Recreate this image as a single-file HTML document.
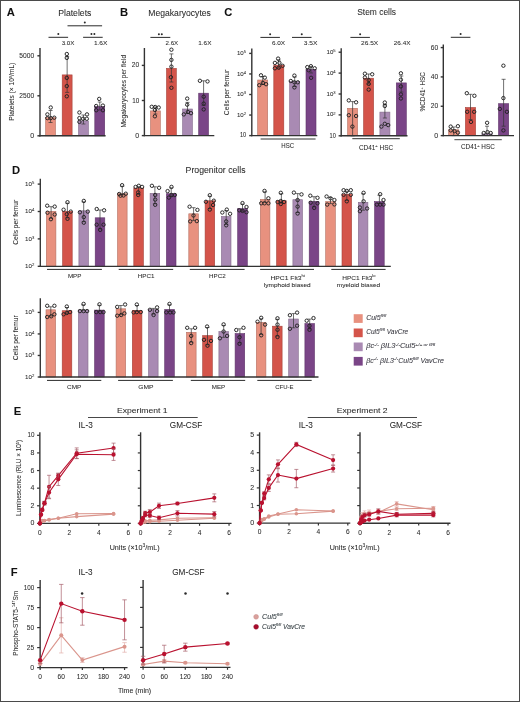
<!DOCTYPE html>
<html><head><meta charset="utf-8"><style>
html,body{margin:0;padding:0;background:#fff;}
svg{display:block;will-change:transform;}
text{font-family:"Liberation Sans",sans-serif;fill:#2b2b2b;stroke:#2b2b2b;stroke-width:0.06px;}
</style></head><body>
<svg width="520" height="702" viewBox="0 0 520 702">
<rect x="0" y="0" width="520" height="702" fill="#fff"/>
<text x="6.80" y="15.90" font-size="11.2" font-weight="bold" style="fill:#111">A</text>
<text x="120.00" y="15.70" font-size="11.2" font-weight="bold" style="fill:#111">B</text>
<text x="224.20" y="15.80" font-size="11.2" font-weight="bold" style="fill:#111">C</text>
<text x="12.10" y="174.20" font-size="11.2" font-weight="bold" style="fill:#111">D</text>
<text x="13.80" y="415.30" font-size="11.2" font-weight="bold" style="fill:#111">E</text>
<text x="10.70" y="575.60" font-size="11.2" font-weight="bold" style="fill:#111">F</text>
<text x="58.20" y="15.60" font-size="8.9" textLength="33.20" lengthAdjust="spacingAndGlyphs">Platelets</text>
<text x="34.10" y="57.81" font-size="7.0" text-anchor="end" textLength="14.79" lengthAdjust="spacingAndGlyphs">5000</text>
<text x="34.10" y="97.81" font-size="7.0" text-anchor="end" textLength="14.79" lengthAdjust="spacingAndGlyphs">2500</text>
<text x="34.10" y="137.81" font-size="7.0" text-anchor="end" textLength="3.89" lengthAdjust="spacingAndGlyphs">0</text>
<rect x="45.60" y="117.55" width="9.90" height="18.25" fill="#e8917f" stroke="#b47163" stroke-width="0.6"/>
<rect x="62.20" y="74.90" width="9.90" height="60.90" fill="#d4544a" stroke="#a54139" stroke-width="0.6"/>
<rect x="78.50" y="120.90" width="9.90" height="14.90" fill="#a98ab3" stroke="#836b8b" stroke-width="0.6"/>
<rect x="94.80" y="106.55" width="9.90" height="29.25" fill="#7a4587" stroke="#5f3569" stroke-width="0.6"/>
<line x1="50.55" y1="110.50" x2="50.55" y2="122.50" stroke="#333" stroke-width="0.7"/>
<line x1="48.55" y1="110.50" x2="52.55" y2="110.50" stroke="#333" stroke-width="0.7"/>
<line x1="48.55" y1="122.50" x2="52.55" y2="122.50" stroke="#333" stroke-width="0.7"/>
<circle cx="50.75" cy="107.50" r="1.7" fill="none" stroke="#222" stroke-width="0.95"/>
<circle cx="47.40" cy="114.40" r="1.7" fill="none" stroke="#222" stroke-width="0.95"/>
<circle cx="47.40" cy="118.10" r="1.7" fill="none" stroke="#222" stroke-width="0.95"/>
<circle cx="50.75" cy="118.10" r="1.7" fill="none" stroke="#222" stroke-width="0.95"/>
<circle cx="54.30" cy="117.70" r="1.7" fill="none" stroke="#222" stroke-width="0.95"/>
<line x1="67.15" y1="56.40" x2="67.15" y2="92.40" stroke="#333" stroke-width="0.7"/>
<line x1="65.15" y1="56.40" x2="69.15" y2="56.40" stroke="#333" stroke-width="0.7"/>
<line x1="65.15" y1="92.40" x2="69.15" y2="92.40" stroke="#333" stroke-width="0.7"/>
<circle cx="66.80" cy="54.00" r="1.7" fill="none" stroke="#222" stroke-width="0.95"/>
<circle cx="66.80" cy="57.90" r="1.7" fill="none" stroke="#222" stroke-width="0.95"/>
<circle cx="66.80" cy="77.90" r="1.7" fill="none" stroke="#222" stroke-width="0.95"/>
<circle cx="66.80" cy="86.10" r="1.7" fill="none" stroke="#222" stroke-width="0.95"/>
<circle cx="66.80" cy="96.30" r="1.7" fill="none" stroke="#222" stroke-width="0.95"/>
<line x1="83.45" y1="115.00" x2="83.45" y2="124.00" stroke="#333" stroke-width="0.7"/>
<line x1="81.45" y1="115.00" x2="85.45" y2="115.00" stroke="#333" stroke-width="0.7"/>
<line x1="81.45" y1="124.00" x2="85.45" y2="124.00" stroke="#333" stroke-width="0.7"/>
<circle cx="79.40" cy="112.50" r="1.7" fill="none" stroke="#222" stroke-width="0.95"/>
<circle cx="87.00" cy="114.40" r="1.7" fill="none" stroke="#222" stroke-width="0.95"/>
<circle cx="79.40" cy="118.10" r="1.7" fill="none" stroke="#222" stroke-width="0.95"/>
<circle cx="83.10" cy="118.75" r="1.7" fill="none" stroke="#222" stroke-width="0.95"/>
<circle cx="86.80" cy="118.75" r="1.7" fill="none" stroke="#222" stroke-width="0.95"/>
<circle cx="79.40" cy="121.90" r="1.7" fill="none" stroke="#222" stroke-width="0.95"/>
<line x1="99.75" y1="102.00" x2="99.75" y2="110.00" stroke="#333" stroke-width="0.7"/>
<line x1="97.75" y1="102.00" x2="101.75" y2="102.00" stroke="#333" stroke-width="0.7"/>
<line x1="97.75" y1="110.00" x2="101.75" y2="110.00" stroke="#333" stroke-width="0.7"/>
<circle cx="99.20" cy="98.90" r="1.7" fill="none" stroke="#222" stroke-width="0.95"/>
<circle cx="96.20" cy="106.00" r="1.7" fill="none" stroke="#222" stroke-width="0.95"/>
<circle cx="102.90" cy="105.60" r="1.7" fill="none" stroke="#222" stroke-width="0.95"/>
<circle cx="96.20" cy="110.25" r="1.7" fill="none" stroke="#222" stroke-width="0.95"/>
<circle cx="102.90" cy="110.25" r="1.7" fill="none" stroke="#222" stroke-width="0.95"/>
<text x="14.20" y="91.70" font-size="6.8" text-anchor="middle" textLength="58.00" lengthAdjust="spacingAndGlyphs" transform="rotate(-90 14.20 91.70)">Platelets (× 10<tspan font-size="4.0" dy="-2.4">9</tspan><tspan dy="2.4">/mL)</tspan></text>
<line x1="48.50" y1="37.30" x2="68.10" y2="37.30" stroke="#2a2a2a" stroke-width="1.0"/>
<circle cx="58.30" cy="34.10" r="1.0" fill="#2a2a2a"/>
<line x1="83.10" y1="37.30" x2="102.70" y2="37.30" stroke="#2a2a2a" stroke-width="1.0"/>
<circle cx="91.45" cy="34.10" r="1.0" fill="#2a2a2a"/>
<circle cx="94.35" cy="34.10" r="1.0" fill="#2a2a2a"/>
<line x1="67.50" y1="25.80" x2="102.10" y2="25.80" stroke="#2a2a2a" stroke-width="1.0"/>
<circle cx="84.80" cy="22.60" r="1.0" fill="#2a2a2a"/>
<text x="61.70" y="45.20" font-size="6.2" textLength="12.70" lengthAdjust="spacingAndGlyphs">3.0X</text>
<text x="93.90" y="45.20" font-size="6.2" textLength="13.50" lengthAdjust="spacingAndGlyphs">1.6X</text>
<text x="148.30" y="15.50" font-size="8.9" textLength="62.60" lengthAdjust="spacingAndGlyphs">Megakaryocytes</text>
<text x="139.20" y="67.41" font-size="7.0" text-anchor="end" textLength="7.40" lengthAdjust="spacingAndGlyphs">20</text>
<text x="139.20" y="102.51" font-size="7.0" text-anchor="end" textLength="7.01" lengthAdjust="spacingAndGlyphs">10</text>
<text x="139.20" y="137.61" font-size="7.0" text-anchor="end" textLength="3.89" lengthAdjust="spacingAndGlyphs">0</text>
<rect x="150.50" y="110.90" width="9.80" height="24.70" fill="#e8917f" stroke="#b47163" stroke-width="0.6"/>
<rect x="166.50" y="68.40" width="9.80" height="67.20" fill="#d4544a" stroke="#a54139" stroke-width="0.6"/>
<rect x="182.60" y="109.00" width="9.80" height="26.60" fill="#a98ab3" stroke="#836b8b" stroke-width="0.6"/>
<rect x="198.70" y="93.20" width="9.80" height="42.40" fill="#7a4587" stroke="#5f3569" stroke-width="0.6"/>
<line x1="155.40" y1="107.00" x2="155.40" y2="114.00" stroke="#333" stroke-width="0.7"/>
<line x1="153.40" y1="107.00" x2="157.40" y2="107.00" stroke="#333" stroke-width="0.7"/>
<line x1="153.40" y1="114.00" x2="157.40" y2="114.00" stroke="#333" stroke-width="0.7"/>
<circle cx="151.70" cy="106.80" r="1.7" fill="none" stroke="#222" stroke-width="0.95"/>
<circle cx="155.20" cy="107.00" r="1.7" fill="none" stroke="#222" stroke-width="0.95"/>
<circle cx="158.70" cy="107.50" r="1.7" fill="none" stroke="#222" stroke-width="0.95"/>
<circle cx="154.90" cy="110.00" r="1.7" fill="none" stroke="#222" stroke-width="0.95"/>
<circle cx="154.90" cy="116.30" r="1.7" fill="none" stroke="#222" stroke-width="0.95"/>
<line x1="171.40" y1="53.90" x2="171.40" y2="82.00" stroke="#333" stroke-width="0.7"/>
<line x1="169.40" y1="53.90" x2="173.40" y2="53.90" stroke="#333" stroke-width="0.7"/>
<line x1="169.40" y1="82.00" x2="173.40" y2="82.00" stroke="#333" stroke-width="0.7"/>
<circle cx="171.40" cy="49.70" r="1.7" fill="none" stroke="#222" stroke-width="0.95"/>
<circle cx="171.40" cy="59.90" r="1.7" fill="none" stroke="#222" stroke-width="0.95"/>
<circle cx="171.40" cy="66.60" r="1.7" fill="none" stroke="#222" stroke-width="0.95"/>
<circle cx="170.90" cy="77.20" r="1.7" fill="none" stroke="#222" stroke-width="0.95"/>
<circle cx="171.40" cy="87.80" r="1.7" fill="none" stroke="#222" stroke-width="0.95"/>
<line x1="187.50" y1="102.40" x2="187.50" y2="113.50" stroke="#333" stroke-width="0.7"/>
<line x1="185.50" y1="102.40" x2="189.50" y2="102.40" stroke="#333" stroke-width="0.7"/>
<line x1="185.50" y1="113.50" x2="189.50" y2="113.50" stroke="#333" stroke-width="0.7"/>
<circle cx="187.20" cy="98.60" r="1.7" fill="none" stroke="#222" stroke-width="0.95"/>
<circle cx="187.20" cy="104.70" r="1.7" fill="none" stroke="#222" stroke-width="0.95"/>
<circle cx="183.80" cy="114.40" r="1.7" fill="none" stroke="#222" stroke-width="0.95"/>
<circle cx="187.90" cy="111.90" r="1.7" fill="none" stroke="#222" stroke-width="0.95"/>
<circle cx="191.00" cy="113.20" r="1.7" fill="none" stroke="#222" stroke-width="0.95"/>
<line x1="203.60" y1="80.80" x2="203.60" y2="105.50" stroke="#333" stroke-width="0.7"/>
<line x1="201.60" y1="80.80" x2="205.60" y2="80.80" stroke="#333" stroke-width="0.7"/>
<line x1="201.60" y1="105.50" x2="205.60" y2="105.50" stroke="#333" stroke-width="0.7"/>
<circle cx="199.90" cy="80.80" r="1.7" fill="none" stroke="#222" stroke-width="0.95"/>
<circle cx="207.50" cy="81.40" r="1.7" fill="none" stroke="#222" stroke-width="0.95"/>
<circle cx="203.70" cy="96.70" r="1.7" fill="none" stroke="#222" stroke-width="0.95"/>
<circle cx="203.70" cy="103.60" r="1.7" fill="none" stroke="#222" stroke-width="0.95"/>
<circle cx="203.70" cy="109.40" r="1.7" fill="none" stroke="#222" stroke-width="0.95"/>
<text x="125.60" y="91.20" font-size="6.8" text-anchor="middle" textLength="72.50" lengthAdjust="spacingAndGlyphs" transform="rotate(-90 125.60 91.20)">Megakaryocytes per field</text>
<line x1="150.40" y1="37.40" x2="170.30" y2="37.40" stroke="#2a2a2a" stroke-width="1.0"/>
<circle cx="158.90" cy="34.20" r="1.0" fill="#2a2a2a"/>
<circle cx="161.80" cy="34.20" r="1.0" fill="#2a2a2a"/>
<text x="165.60" y="45.20" font-size="6.2" textLength="12.60" lengthAdjust="spacingAndGlyphs">2.6X</text>
<text x="198.30" y="45.20" font-size="6.2" textLength="13.10" lengthAdjust="spacingAndGlyphs">1.6X</text>
<text x="357.20" y="15.40" font-size="9.0" textLength="38.90" lengthAdjust="spacingAndGlyphs">Stem cells</text>
<text x="246.20" y="137.36" font-size="6.3" text-anchor="end" textLength="6.31" lengthAdjust="spacingAndGlyphs">10</text>
<text x="246.00" y="116.63" font-size="6.1" text-anchor="end">10<tspan font-size="4.15" dy="-1.90">2</tspan></text>
<text x="246.00" y="96.08" font-size="6.1" text-anchor="end">10<tspan font-size="4.15" dy="-1.90">3</tspan></text>
<text x="246.00" y="75.53" font-size="6.1" text-anchor="end">10<tspan font-size="4.15" dy="-1.90">4</tspan></text>
<text x="246.00" y="54.98" font-size="6.1" text-anchor="end">10<tspan font-size="4.15" dy="-1.90">5</tspan></text>
<rect x="257.70" y="80.00" width="10.00" height="55.60" fill="#e8917f" stroke="#b47163" stroke-width="0.6"/>
<rect x="273.80" y="65.20" width="10.00" height="70.40" fill="#d4544a" stroke="#a54139" stroke-width="0.6"/>
<rect x="289.70" y="81.30" width="10.00" height="54.30" fill="#a98ab3" stroke="#836b8b" stroke-width="0.6"/>
<rect x="306.00" y="69.30" width="10.00" height="66.30" fill="#7a4587" stroke="#5f3569" stroke-width="0.6"/>
<line x1="262.70" y1="76.50" x2="262.70" y2="84.50" stroke="#333" stroke-width="0.7"/>
<line x1="260.70" y1="76.50" x2="264.70" y2="76.50" stroke="#333" stroke-width="0.7"/>
<line x1="260.70" y1="84.50" x2="264.70" y2="84.50" stroke="#333" stroke-width="0.7"/>
<circle cx="261.00" cy="75.30" r="1.7" fill="none" stroke="#222" stroke-width="0.95"/>
<circle cx="264.80" cy="77.60" r="1.7" fill="none" stroke="#222" stroke-width="0.95"/>
<circle cx="259.30" cy="85.20" r="1.7" fill="none" stroke="#222" stroke-width="0.95"/>
<circle cx="262.90" cy="82.90" r="1.7" fill="none" stroke="#222" stroke-width="0.95"/>
<circle cx="266.10" cy="84.20" r="1.7" fill="none" stroke="#222" stroke-width="0.95"/>
<line x1="278.80" y1="60.00" x2="278.80" y2="68.00" stroke="#333" stroke-width="0.7"/>
<line x1="276.80" y1="60.00" x2="280.80" y2="60.00" stroke="#333" stroke-width="0.7"/>
<line x1="276.80" y1="68.00" x2="280.80" y2="68.00" stroke="#333" stroke-width="0.7"/>
<circle cx="278.10" cy="58.60" r="1.7" fill="none" stroke="#222" stroke-width="0.95"/>
<circle cx="274.90" cy="62.90" r="1.7" fill="none" stroke="#222" stroke-width="0.95"/>
<circle cx="279.40" cy="62.90" r="1.7" fill="none" stroke="#222" stroke-width="0.95"/>
<circle cx="282.60" cy="65.80" r="1.7" fill="none" stroke="#222" stroke-width="0.95"/>
<circle cx="274.90" cy="68.30" r="1.7" fill="none" stroke="#222" stroke-width="0.95"/>
<circle cx="278.70" cy="67.70" r="1.7" fill="none" stroke="#222" stroke-width="0.95"/>
<line x1="294.70" y1="77.00" x2="294.70" y2="86.50" stroke="#333" stroke-width="0.7"/>
<line x1="292.70" y1="77.00" x2="296.70" y2="77.00" stroke="#333" stroke-width="0.7"/>
<line x1="292.70" y1="86.50" x2="296.70" y2="86.50" stroke="#333" stroke-width="0.7"/>
<circle cx="294.40" cy="75.60" r="1.7" fill="none" stroke="#222" stroke-width="0.95"/>
<circle cx="290.80" cy="81.00" r="1.7" fill="none" stroke="#222" stroke-width="0.95"/>
<circle cx="297.80" cy="82.30" r="1.7" fill="none" stroke="#222" stroke-width="0.95"/>
<circle cx="294.40" cy="82.30" r="1.7" fill="none" stroke="#222" stroke-width="0.95"/>
<circle cx="294.40" cy="87.40" r="1.7" fill="none" stroke="#222" stroke-width="0.95"/>
<line x1="311.00" y1="66.50" x2="311.00" y2="73.00" stroke="#333" stroke-width="0.7"/>
<line x1="309.00" y1="66.50" x2="313.00" y2="66.50" stroke="#333" stroke-width="0.7"/>
<line x1="309.00" y1="73.00" x2="313.00" y2="73.00" stroke="#333" stroke-width="0.7"/>
<circle cx="307.30" cy="67.10" r="1.7" fill="none" stroke="#222" stroke-width="0.95"/>
<circle cx="310.90" cy="66.20" r="1.7" fill="none" stroke="#222" stroke-width="0.95"/>
<circle cx="314.70" cy="68.30" r="1.7" fill="none" stroke="#222" stroke-width="0.95"/>
<circle cx="308.60" cy="70.20" r="1.7" fill="none" stroke="#222" stroke-width="0.95"/>
<circle cx="311.10" cy="77.80" r="1.7" fill="none" stroke="#222" stroke-width="0.95"/>
<text x="229.40" y="92.40" font-size="6.8" text-anchor="middle" textLength="45.50" lengthAdjust="spacingAndGlyphs" transform="rotate(-90 229.40 92.40)">Cells per femur</text>
<line x1="260.60" y1="139.00" x2="315.60" y2="139.00" stroke="#333" stroke-width="1.0"/>
<text x="287.75" y="147.50" font-size="6.8" text-anchor="middle" textLength="12.80" lengthAdjust="spacingAndGlyphs">HSC</text>
<line x1="260.40" y1="37.40" x2="279.90" y2="37.40" stroke="#2a2a2a" stroke-width="1.0"/>
<circle cx="270.15" cy="34.20" r="1.0" fill="#2a2a2a"/>
<line x1="292.00" y1="37.40" x2="311.50" y2="37.40" stroke="#2a2a2a" stroke-width="1.0"/>
<circle cx="301.75" cy="34.20" r="1.0" fill="#2a2a2a"/>
<text x="271.90" y="45.20" font-size="6.2" textLength="13.20" lengthAdjust="spacingAndGlyphs">6.0X</text>
<text x="303.80" y="45.20" font-size="6.2" textLength="13.60" lengthAdjust="spacingAndGlyphs">3.5X</text>
<text x="335.90" y="137.56" font-size="6.3" text-anchor="end" textLength="6.31" lengthAdjust="spacingAndGlyphs">10</text>
<text x="335.60" y="116.48" font-size="6.1" text-anchor="end">10<tspan font-size="4.15" dy="-1.90">2</tspan></text>
<text x="335.60" y="95.58" font-size="6.1" text-anchor="end">10<tspan font-size="4.15" dy="-1.90">3</tspan></text>
<text x="335.60" y="74.68" font-size="6.1" text-anchor="end">10<tspan font-size="4.15" dy="-1.90">4</tspan></text>
<text x="335.60" y="53.78" font-size="6.1" text-anchor="end">10<tspan font-size="4.15" dy="-1.90">5</tspan></text>
<rect x="347.60" y="108.30" width="10.00" height="27.50" fill="#e8917f" stroke="#b47163" stroke-width="0.6"/>
<rect x="363.60" y="78.20" width="10.00" height="57.60" fill="#d4544a" stroke="#a54139" stroke-width="0.6"/>
<rect x="379.90" y="112.10" width="10.00" height="23.70" fill="#a98ab3" stroke="#836b8b" stroke-width="0.6"/>
<rect x="396.30" y="82.90" width="10.00" height="52.90" fill="#7a4587" stroke="#5f3569" stroke-width="0.6"/>
<line x1="352.60" y1="101.60" x2="352.60" y2="135.80" stroke="#333" stroke-width="0.7"/>
<line x1="350.60" y1="101.60" x2="354.60" y2="101.60" stroke="#333" stroke-width="0.7"/>
<line x1="350.60" y1="135.80" x2="354.60" y2="135.80" stroke="#333" stroke-width="0.7"/>
<circle cx="348.80" cy="100.40" r="1.7" fill="none" stroke="#222" stroke-width="0.95"/>
<circle cx="356.10" cy="102.30" r="1.7" fill="none" stroke="#222" stroke-width="0.95"/>
<circle cx="348.80" cy="115.20" r="1.7" fill="none" stroke="#222" stroke-width="0.95"/>
<circle cx="356.10" cy="116.00" r="1.7" fill="none" stroke="#222" stroke-width="0.95"/>
<circle cx="352.40" cy="126.60" r="1.7" fill="none" stroke="#222" stroke-width="0.95"/>
<line x1="368.60" y1="74.00" x2="368.60" y2="84.00" stroke="#333" stroke-width="0.7"/>
<line x1="366.60" y1="74.00" x2="370.60" y2="74.00" stroke="#333" stroke-width="0.7"/>
<line x1="366.60" y1="84.00" x2="370.60" y2="84.00" stroke="#333" stroke-width="0.7"/>
<circle cx="364.90" cy="73.70" r="1.7" fill="none" stroke="#222" stroke-width="0.95"/>
<circle cx="372.20" cy="74.30" r="1.7" fill="none" stroke="#222" stroke-width="0.95"/>
<circle cx="364.90" cy="77.50" r="1.7" fill="none" stroke="#222" stroke-width="0.95"/>
<circle cx="368.70" cy="80.10" r="1.7" fill="none" stroke="#222" stroke-width="0.95"/>
<circle cx="368.70" cy="83.90" r="1.7" fill="none" stroke="#222" stroke-width="0.95"/>
<circle cx="368.70" cy="89.60" r="1.7" fill="none" stroke="#222" stroke-width="0.95"/>
<line x1="384.90" y1="104.50" x2="384.90" y2="118.00" stroke="#333" stroke-width="0.7"/>
<line x1="382.90" y1="104.50" x2="386.90" y2="104.50" stroke="#333" stroke-width="0.7"/>
<line x1="382.90" y1="118.00" x2="386.90" y2="118.00" stroke="#333" stroke-width="0.7"/>
<circle cx="384.80" cy="102.50" r="1.7" fill="none" stroke="#222" stroke-width="0.95"/>
<circle cx="384.80" cy="106.00" r="1.7" fill="none" stroke="#222" stroke-width="0.95"/>
<circle cx="381.40" cy="126.60" r="1.7" fill="none" stroke="#222" stroke-width="0.95"/>
<circle cx="384.80" cy="123.80" r="1.7" fill="none" stroke="#222" stroke-width="0.95"/>
<circle cx="388.20" cy="125.10" r="1.7" fill="none" stroke="#222" stroke-width="0.95"/>
<line x1="401.30" y1="76.00" x2="401.30" y2="92.00" stroke="#333" stroke-width="0.7"/>
<line x1="399.30" y1="76.00" x2="403.30" y2="76.00" stroke="#333" stroke-width="0.7"/>
<line x1="399.30" y1="92.00" x2="403.30" y2="92.00" stroke="#333" stroke-width="0.7"/>
<circle cx="400.90" cy="73.30" r="1.7" fill="none" stroke="#222" stroke-width="0.95"/>
<circle cx="400.90" cy="79.70" r="1.7" fill="none" stroke="#222" stroke-width="0.95"/>
<circle cx="400.90" cy="86.40" r="1.7" fill="none" stroke="#222" stroke-width="0.95"/>
<circle cx="400.90" cy="94.40" r="1.7" fill="none" stroke="#222" stroke-width="0.95"/>
<circle cx="400.90" cy="98.50" r="1.7" fill="none" stroke="#222" stroke-width="0.95"/>
<line x1="352.30" y1="138.70" x2="399.80" y2="138.70" stroke="#333" stroke-width="1.0"/>
<text x="376.00" y="149.70" font-size="6.4" text-anchor="middle" textLength="34.20" lengthAdjust="spacingAndGlyphs">CD41<tspan font-size="4.0" dy="-2.4">+</tspan><tspan dy="2.4"> HSC</tspan></text>
<line x1="350.40" y1="37.40" x2="369.90" y2="37.40" stroke="#2a2a2a" stroke-width="1.0"/>
<circle cx="360.15" cy="34.20" r="1.0" fill="#2a2a2a"/>
<text x="361.10" y="45.20" font-size="6.2" textLength="17.10" lengthAdjust="spacingAndGlyphs">26.5X</text>
<text x="393.80" y="45.20" font-size="6.2" textLength="16.70" lengthAdjust="spacingAndGlyphs">26.4X</text>
<text x="438.20" y="137.61" font-size="7.0" text-anchor="end" textLength="3.89" lengthAdjust="spacingAndGlyphs">0</text>
<text x="438.20" y="108.27" font-size="7.0" text-anchor="end" textLength="7.40" lengthAdjust="spacingAndGlyphs">20</text>
<text x="438.20" y="78.93" font-size="7.0" text-anchor="end" textLength="7.40" lengthAdjust="spacingAndGlyphs">40</text>
<text x="438.20" y="49.59" font-size="7.0" text-anchor="end" textLength="7.40" lengthAdjust="spacingAndGlyphs">60</text>
<rect x="448.60" y="129.80" width="10.20" height="5.80" fill="#e8917f" stroke="#b47163" stroke-width="0.6"/>
<rect x="465.40" y="107.50" width="10.20" height="28.10" fill="#d4544a" stroke="#a54139" stroke-width="0.6"/>
<rect x="481.90" y="133.90" width="10.20" height="1.70" fill="#a98ab3" stroke="#836b8b" stroke-width="0.6"/>
<rect x="498.50" y="103.70" width="10.20" height="31.90" fill="#7a4587" stroke="#5f3569" stroke-width="0.6"/>
<line x1="453.70" y1="127.00" x2="453.70" y2="135.60" stroke="#333" stroke-width="0.7"/>
<line x1="451.70" y1="127.00" x2="455.70" y2="127.00" stroke="#333" stroke-width="0.7"/>
<line x1="451.70" y1="135.60" x2="455.70" y2="135.60" stroke="#333" stroke-width="0.7"/>
<circle cx="450.70" cy="126.60" r="1.7" fill="none" stroke="#222" stroke-width="0.95"/>
<circle cx="457.90" cy="126.20" r="1.7" fill="none" stroke="#222" stroke-width="0.95"/>
<circle cx="450.70" cy="130.40" r="1.7" fill="none" stroke="#222" stroke-width="0.95"/>
<circle cx="454.50" cy="131.10" r="1.7" fill="none" stroke="#222" stroke-width="0.95"/>
<circle cx="457.90" cy="132.60" r="1.7" fill="none" stroke="#222" stroke-width="0.95"/>
<line x1="470.50" y1="94.30" x2="470.50" y2="119.60" stroke="#333" stroke-width="0.7"/>
<line x1="468.50" y1="94.30" x2="472.50" y2="94.30" stroke="#333" stroke-width="0.7"/>
<line x1="468.50" y1="119.60" x2="472.50" y2="119.60" stroke="#333" stroke-width="0.7"/>
<circle cx="466.80" cy="93.20" r="1.7" fill="none" stroke="#222" stroke-width="0.95"/>
<circle cx="474.40" cy="95.80" r="1.7" fill="none" stroke="#222" stroke-width="0.95"/>
<circle cx="467.20" cy="111.80" r="1.7" fill="none" stroke="#222" stroke-width="0.95"/>
<circle cx="474.20" cy="111.80" r="1.7" fill="none" stroke="#222" stroke-width="0.95"/>
<circle cx="471.00" cy="121.90" r="1.7" fill="none" stroke="#222" stroke-width="0.95"/>
<line x1="487.00" y1="126.20" x2="487.00" y2="135.60" stroke="#333" stroke-width="0.7"/>
<line x1="485.00" y1="126.20" x2="489.00" y2="126.20" stroke="#333" stroke-width="0.7"/>
<line x1="485.00" y1="135.60" x2="489.00" y2="135.60" stroke="#333" stroke-width="0.7"/>
<circle cx="487.10" cy="122.80" r="1.7" fill="none" stroke="#222" stroke-width="0.95"/>
<circle cx="483.70" cy="133.00" r="1.7" fill="none" stroke="#222" stroke-width="0.95"/>
<circle cx="487.50" cy="132.10" r="1.7" fill="none" stroke="#222" stroke-width="0.95"/>
<circle cx="490.70" cy="133.00" r="1.7" fill="none" stroke="#222" stroke-width="0.95"/>
<line x1="503.60" y1="79.30" x2="503.60" y2="126.20" stroke="#333" stroke-width="0.7"/>
<line x1="501.60" y1="79.30" x2="505.60" y2="79.30" stroke="#333" stroke-width="0.7"/>
<line x1="501.60" y1="126.20" x2="505.60" y2="126.20" stroke="#333" stroke-width="0.7"/>
<circle cx="503.40" cy="65.70" r="1.7" fill="none" stroke="#222" stroke-width="0.95"/>
<circle cx="503.40" cy="98.10" r="1.7" fill="none" stroke="#222" stroke-width="0.95"/>
<circle cx="499.80" cy="108.90" r="1.7" fill="none" stroke="#222" stroke-width="0.95"/>
<circle cx="506.90" cy="111.80" r="1.7" fill="none" stroke="#222" stroke-width="0.95"/>
<circle cx="503.40" cy="130.40" r="1.7" fill="none" stroke="#222" stroke-width="0.95"/>
<text x="425.30" y="91.80" font-size="7.2" text-anchor="middle" textLength="39.40" lengthAdjust="spacingAndGlyphs" transform="rotate(-90 425.30 91.80)">%CD41<tspan font-size="4.0" dy="-2.4">+</tspan><tspan dy="2.4"> HSC</tspan></text>
<line x1="454.40" y1="139.70" x2="501.80" y2="139.70" stroke="#333" stroke-width="0.9"/>
<text x="477.90" y="149.40" font-size="6.4" text-anchor="middle" textLength="33.80" lengthAdjust="spacingAndGlyphs">CD41<tspan font-size="4.0" dy="-2.4">+</tspan><tspan dy="2.4"> HSC</tspan></text>
<line x1="450.80" y1="37.30" x2="470.40" y2="37.30" stroke="#2a2a2a" stroke-width="1.0"/>
<circle cx="460.60" cy="34.10" r="1.0" fill="#2a2a2a"/>
<text x="185.60" y="173.40" font-size="8.4" textLength="60.00" lengthAdjust="spacingAndGlyphs">Progenitor cells</text>
<text x="34.30" y="267.92" font-size="6.2" text-anchor="end">10<tspan font-size="4.22" dy="-1.90">2</tspan></text>
<text x="34.30" y="240.52" font-size="6.2" text-anchor="end">10<tspan font-size="4.22" dy="-1.90">3</tspan></text>
<text x="34.30" y="213.12" font-size="6.2" text-anchor="end">10<tspan font-size="4.22" dy="-1.90">4</tspan></text>
<text x="34.30" y="185.72" font-size="6.2" text-anchor="end">10<tspan font-size="4.22" dy="-1.90">5</tspan></text>
<text x="18.40" y="222.30" font-size="6.6" text-anchor="middle" textLength="44.90" lengthAdjust="spacingAndGlyphs" transform="rotate(-90 18.40 222.30)">Cells per femur</text>
<rect x="46.30" y="211.30" width="9.60" height="55.00" fill="#e8917f" stroke="#b47163" stroke-width="0.6"/>
<rect x="62.60" y="211.30" width="9.60" height="55.00" fill="#d4544a" stroke="#a54139" stroke-width="0.6"/>
<rect x="78.90" y="210.80" width="9.60" height="55.50" fill="#a98ab3" stroke="#836b8b" stroke-width="0.6"/>
<rect x="95.20" y="217.80" width="9.60" height="48.50" fill="#7a4587" stroke="#5f3569" stroke-width="0.6"/>
<line x1="51.10" y1="206.70" x2="51.10" y2="218.20" stroke="#333" stroke-width="0.7"/>
<line x1="49.10" y1="206.70" x2="53.10" y2="206.70" stroke="#333" stroke-width="0.7"/>
<line x1="49.10" y1="218.20" x2="53.10" y2="218.20" stroke="#333" stroke-width="0.7"/>
<circle cx="47.20" cy="205.70" r="1.7" fill="none" stroke="#222" stroke-width="0.95"/>
<circle cx="54.70" cy="206.60" r="1.7" fill="none" stroke="#222" stroke-width="0.95"/>
<circle cx="47.50" cy="212.70" r="1.7" fill="none" stroke="#222" stroke-width="0.95"/>
<circle cx="54.70" cy="214.50" r="1.7" fill="none" stroke="#222" stroke-width="0.95"/>
<circle cx="50.90" cy="219.20" r="1.7" fill="none" stroke="#222" stroke-width="0.95"/>
<line x1="67.40" y1="203.20" x2="67.40" y2="217.80" stroke="#333" stroke-width="0.7"/>
<line x1="65.40" y1="203.20" x2="69.40" y2="203.20" stroke="#333" stroke-width="0.7"/>
<line x1="65.40" y1="217.80" x2="69.40" y2="217.80" stroke="#333" stroke-width="0.7"/>
<circle cx="67.50" cy="202.20" r="1.7" fill="none" stroke="#222" stroke-width="0.95"/>
<circle cx="63.60" cy="209.70" r="1.7" fill="none" stroke="#222" stroke-width="0.95"/>
<circle cx="70.80" cy="211.60" r="1.7" fill="none" stroke="#222" stroke-width="0.95"/>
<circle cx="66.80" cy="214.20" r="1.7" fill="none" stroke="#222" stroke-width="0.95"/>
<circle cx="67.50" cy="218.80" r="1.7" fill="none" stroke="#222" stroke-width="0.95"/>
<line x1="83.70" y1="201.90" x2="83.70" y2="221.70" stroke="#333" stroke-width="0.7"/>
<line x1="81.70" y1="201.90" x2="85.70" y2="201.90" stroke="#333" stroke-width="0.7"/>
<line x1="81.70" y1="221.70" x2="85.70" y2="221.70" stroke="#333" stroke-width="0.7"/>
<circle cx="83.80" cy="200.90" r="1.7" fill="none" stroke="#222" stroke-width="0.95"/>
<circle cx="79.90" cy="212.30" r="1.7" fill="none" stroke="#222" stroke-width="0.95"/>
<circle cx="87.80" cy="211.60" r="1.7" fill="none" stroke="#222" stroke-width="0.95"/>
<circle cx="83.80" cy="217.10" r="1.7" fill="none" stroke="#222" stroke-width="0.95"/>
<circle cx="83.80" cy="222.70" r="1.7" fill="none" stroke="#222" stroke-width="0.95"/>
<line x1="100.00" y1="210.00" x2="100.00" y2="228.90" stroke="#333" stroke-width="0.7"/>
<line x1="98.00" y1="210.00" x2="102.00" y2="210.00" stroke="#333" stroke-width="0.7"/>
<line x1="98.00" y1="228.90" x2="102.00" y2="228.90" stroke="#333" stroke-width="0.7"/>
<circle cx="96.70" cy="209.00" r="1.7" fill="none" stroke="#222" stroke-width="0.95"/>
<circle cx="104.10" cy="210.30" r="1.7" fill="none" stroke="#222" stroke-width="0.95"/>
<circle cx="96.70" cy="224.70" r="1.7" fill="none" stroke="#222" stroke-width="0.95"/>
<circle cx="103.50" cy="224.70" r="1.7" fill="none" stroke="#222" stroke-width="0.95"/>
<circle cx="100.20" cy="229.90" r="1.7" fill="none" stroke="#222" stroke-width="0.95"/>
<rect x="117.50" y="193.70" width="9.60" height="72.60" fill="#e8917f" stroke="#b47163" stroke-width="0.6"/>
<rect x="133.80" y="188.10" width="9.60" height="78.20" fill="#d4544a" stroke="#a54139" stroke-width="0.6"/>
<rect x="150.10" y="193.30" width="9.60" height="73.00" fill="#a98ab3" stroke="#836b8b" stroke-width="0.6"/>
<rect x="166.40" y="193.70" width="9.60" height="72.60" fill="#7a4587" stroke="#5f3569" stroke-width="0.6"/>
<line x1="122.30" y1="186.20" x2="122.30" y2="194.70" stroke="#333" stroke-width="0.7"/>
<line x1="120.30" y1="186.20" x2="124.30" y2="186.20" stroke="#333" stroke-width="0.7"/>
<line x1="120.30" y1="194.70" x2="124.30" y2="194.70" stroke="#333" stroke-width="0.7"/>
<circle cx="122.10" cy="185.20" r="1.7" fill="none" stroke="#222" stroke-width="0.95"/>
<circle cx="119.20" cy="194.00" r="1.7" fill="none" stroke="#222" stroke-width="0.95"/>
<circle cx="125.80" cy="193.70" r="1.7" fill="none" stroke="#222" stroke-width="0.95"/>
<circle cx="120.50" cy="195.70" r="1.7" fill="none" stroke="#222" stroke-width="0.95"/>
<circle cx="123.50" cy="195.50" r="1.7" fill="none" stroke="#222" stroke-width="0.95"/>
<line x1="138.60" y1="186.80" x2="138.60" y2="194.00" stroke="#333" stroke-width="0.7"/>
<line x1="136.60" y1="186.80" x2="140.60" y2="186.80" stroke="#333" stroke-width="0.7"/>
<line x1="136.60" y1="194.00" x2="140.60" y2="194.00" stroke="#333" stroke-width="0.7"/>
<circle cx="135.60" cy="186.90" r="1.7" fill="none" stroke="#222" stroke-width="0.95"/>
<circle cx="138.80" cy="185.80" r="1.7" fill="none" stroke="#222" stroke-width="0.95"/>
<circle cx="142.10" cy="186.90" r="1.7" fill="none" stroke="#222" stroke-width="0.95"/>
<circle cx="138.20" cy="192.40" r="1.7" fill="none" stroke="#222" stroke-width="0.95"/>
<circle cx="138.20" cy="195.00" r="1.7" fill="none" stroke="#222" stroke-width="0.95"/>
<line x1="154.90" y1="186.80" x2="154.90" y2="203.80" stroke="#333" stroke-width="0.7"/>
<line x1="152.90" y1="186.80" x2="156.90" y2="186.80" stroke="#333" stroke-width="0.7"/>
<line x1="152.90" y1="203.80" x2="156.90" y2="203.80" stroke="#333" stroke-width="0.7"/>
<circle cx="151.90" cy="185.80" r="1.7" fill="none" stroke="#222" stroke-width="0.95"/>
<circle cx="159.10" cy="187.80" r="1.7" fill="none" stroke="#222" stroke-width="0.95"/>
<circle cx="155.20" cy="195.00" r="1.7" fill="none" stroke="#222" stroke-width="0.95"/>
<circle cx="155.20" cy="199.60" r="1.7" fill="none" stroke="#222" stroke-width="0.95"/>
<circle cx="155.20" cy="204.80" r="1.7" fill="none" stroke="#222" stroke-width="0.95"/>
<line x1="171.20" y1="187.90" x2="171.20" y2="196.60" stroke="#333" stroke-width="0.7"/>
<line x1="169.20" y1="187.90" x2="173.20" y2="187.90" stroke="#333" stroke-width="0.7"/>
<line x1="169.20" y1="196.60" x2="173.20" y2="196.60" stroke="#333" stroke-width="0.7"/>
<circle cx="171.50" cy="186.90" r="1.7" fill="none" stroke="#222" stroke-width="0.95"/>
<circle cx="167.60" cy="191.10" r="1.7" fill="none" stroke="#222" stroke-width="0.95"/>
<circle cx="171.50" cy="195.00" r="1.7" fill="none" stroke="#222" stroke-width="0.95"/>
<circle cx="174.80" cy="195.00" r="1.7" fill="none" stroke="#222" stroke-width="0.95"/>
<circle cx="168.90" cy="197.60" r="1.7" fill="none" stroke="#222" stroke-width="0.95"/>
<rect x="188.80" y="213.80" width="9.60" height="52.50" fill="#e8917f" stroke="#b47163" stroke-width="0.6"/>
<rect x="205.10" y="200.80" width="9.60" height="65.50" fill="#d4544a" stroke="#a54139" stroke-width="0.6"/>
<rect x="221.40" y="216.50" width="9.60" height="49.80" fill="#a98ab3" stroke="#836b8b" stroke-width="0.6"/>
<rect x="237.70" y="208.60" width="9.60" height="57.70" fill="#7a4587" stroke="#5f3569" stroke-width="0.6"/>
<line x1="193.60" y1="207.70" x2="193.60" y2="220.40" stroke="#333" stroke-width="0.7"/>
<line x1="191.60" y1="207.70" x2="195.60" y2="207.70" stroke="#333" stroke-width="0.7"/>
<line x1="191.60" y1="220.40" x2="195.60" y2="220.40" stroke="#333" stroke-width="0.7"/>
<circle cx="189.60" cy="206.70" r="1.7" fill="none" stroke="#222" stroke-width="0.95"/>
<circle cx="197.40" cy="209.90" r="1.7" fill="none" stroke="#222" stroke-width="0.95"/>
<circle cx="193.50" cy="215.50" r="1.7" fill="none" stroke="#222" stroke-width="0.95"/>
<circle cx="190.20" cy="221.40" r="1.7" fill="none" stroke="#222" stroke-width="0.95"/>
<circle cx="196.80" cy="221.10" r="1.7" fill="none" stroke="#222" stroke-width="0.95"/>
<line x1="209.90" y1="196.20" x2="209.90" y2="208.60" stroke="#333" stroke-width="0.7"/>
<line x1="207.90" y1="196.20" x2="211.90" y2="196.20" stroke="#333" stroke-width="0.7"/>
<line x1="207.90" y1="208.60" x2="211.90" y2="208.60" stroke="#333" stroke-width="0.7"/>
<circle cx="209.80" cy="195.20" r="1.7" fill="none" stroke="#222" stroke-width="0.95"/>
<circle cx="205.90" cy="201.80" r="1.7" fill="none" stroke="#222" stroke-width="0.95"/>
<circle cx="213.80" cy="200.70" r="1.7" fill="none" stroke="#222" stroke-width="0.95"/>
<circle cx="213.10" cy="205.00" r="1.7" fill="none" stroke="#222" stroke-width="0.95"/>
<circle cx="209.80" cy="209.60" r="1.7" fill="none" stroke="#222" stroke-width="0.95"/>
<line x1="226.20" y1="210.60" x2="226.20" y2="224.30" stroke="#333" stroke-width="0.7"/>
<line x1="224.20" y1="210.60" x2="228.20" y2="210.60" stroke="#333" stroke-width="0.7"/>
<line x1="224.20" y1="224.30" x2="228.20" y2="224.30" stroke="#333" stroke-width="0.7"/>
<circle cx="226.80" cy="209.60" r="1.7" fill="none" stroke="#222" stroke-width="0.95"/>
<circle cx="222.30" cy="212.50" r="1.7" fill="none" stroke="#222" stroke-width="0.95"/>
<circle cx="230.10" cy="213.80" r="1.7" fill="none" stroke="#222" stroke-width="0.95"/>
<circle cx="226.20" cy="221.40" r="1.7" fill="none" stroke="#222" stroke-width="0.95"/>
<circle cx="226.20" cy="225.30" r="1.7" fill="none" stroke="#222" stroke-width="0.95"/>
<line x1="242.50" y1="204.10" x2="242.50" y2="211.20" stroke="#333" stroke-width="0.7"/>
<line x1="240.50" y1="204.10" x2="244.50" y2="204.10" stroke="#333" stroke-width="0.7"/>
<line x1="240.50" y1="211.20" x2="244.50" y2="211.20" stroke="#333" stroke-width="0.7"/>
<circle cx="242.50" cy="203.10" r="1.7" fill="none" stroke="#222" stroke-width="0.95"/>
<circle cx="246.50" cy="207.00" r="1.7" fill="none" stroke="#222" stroke-width="0.95"/>
<circle cx="239.30" cy="210.30" r="1.7" fill="none" stroke="#222" stroke-width="0.95"/>
<circle cx="242.50" cy="210.90" r="1.7" fill="none" stroke="#222" stroke-width="0.95"/>
<circle cx="246.50" cy="212.20" r="1.7" fill="none" stroke="#222" stroke-width="0.95"/>
<rect x="260.30" y="199.40" width="9.60" height="66.90" fill="#e8917f" stroke="#b47163" stroke-width="0.6"/>
<rect x="276.60" y="200.70" width="9.60" height="65.60" fill="#d4544a" stroke="#a54139" stroke-width="0.6"/>
<rect x="292.90" y="199.70" width="9.60" height="66.60" fill="#a98ab3" stroke="#836b8b" stroke-width="0.6"/>
<rect x="309.20" y="201.30" width="9.60" height="65.00" fill="#7a4587" stroke="#5f3569" stroke-width="0.6"/>
<line x1="265.10" y1="191.90" x2="265.10" y2="202.30" stroke="#333" stroke-width="0.7"/>
<line x1="263.10" y1="191.90" x2="267.10" y2="191.90" stroke="#333" stroke-width="0.7"/>
<line x1="263.10" y1="202.30" x2="267.10" y2="202.30" stroke="#333" stroke-width="0.7"/>
<circle cx="264.50" cy="190.90" r="1.7" fill="none" stroke="#222" stroke-width="0.95"/>
<circle cx="268.40" cy="198.30" r="1.7" fill="none" stroke="#222" stroke-width="0.95"/>
<circle cx="261.20" cy="203.30" r="1.7" fill="none" stroke="#222" stroke-width="0.95"/>
<circle cx="264.50" cy="203.30" r="1.7" fill="none" stroke="#222" stroke-width="0.95"/>
<circle cx="268.40" cy="203.30" r="1.7" fill="none" stroke="#222" stroke-width="0.95"/>
<line x1="281.40" y1="193.80" x2="281.40" y2="203.00" stroke="#333" stroke-width="0.7"/>
<line x1="279.40" y1="193.80" x2="283.40" y2="193.80" stroke="#333" stroke-width="0.7"/>
<line x1="279.40" y1="203.00" x2="283.40" y2="203.00" stroke="#333" stroke-width="0.7"/>
<circle cx="280.80" cy="192.80" r="1.7" fill="none" stroke="#222" stroke-width="0.95"/>
<circle cx="277.60" cy="202.00" r="1.7" fill="none" stroke="#222" stroke-width="0.95"/>
<circle cx="284.10" cy="202.00" r="1.7" fill="none" stroke="#222" stroke-width="0.95"/>
<circle cx="280.80" cy="204.00" r="1.7" fill="none" stroke="#222" stroke-width="0.95"/>
<circle cx="280.80" cy="201.00" r="1.7" fill="none" stroke="#222" stroke-width="0.95"/>
<line x1="297.70" y1="193.60" x2="297.70" y2="212.50" stroke="#333" stroke-width="0.7"/>
<line x1="295.70" y1="193.60" x2="299.70" y2="193.60" stroke="#333" stroke-width="0.7"/>
<line x1="295.70" y1="212.50" x2="299.70" y2="212.50" stroke="#333" stroke-width="0.7"/>
<circle cx="293.90" cy="192.60" r="1.7" fill="none" stroke="#222" stroke-width="0.95"/>
<circle cx="301.50" cy="194.40" r="1.7" fill="none" stroke="#222" stroke-width="0.95"/>
<circle cx="297.60" cy="200.00" r="1.7" fill="none" stroke="#222" stroke-width="0.95"/>
<circle cx="297.60" cy="206.60" r="1.7" fill="none" stroke="#222" stroke-width="0.95"/>
<circle cx="297.60" cy="213.50" r="1.7" fill="none" stroke="#222" stroke-width="0.95"/>
<line x1="314.00" y1="196.70" x2="314.00" y2="206.90" stroke="#333" stroke-width="0.7"/>
<line x1="312.00" y1="196.70" x2="316.00" y2="196.70" stroke="#333" stroke-width="0.7"/>
<line x1="312.00" y1="206.90" x2="316.00" y2="206.90" stroke="#333" stroke-width="0.7"/>
<circle cx="310.30" cy="195.70" r="1.7" fill="none" stroke="#222" stroke-width="0.95"/>
<circle cx="317.50" cy="197.80" r="1.7" fill="none" stroke="#222" stroke-width="0.95"/>
<circle cx="310.70" cy="202.70" r="1.7" fill="none" stroke="#222" stroke-width="0.95"/>
<circle cx="317.50" cy="203.30" r="1.7" fill="none" stroke="#222" stroke-width="0.95"/>
<circle cx="314.20" cy="207.90" r="1.7" fill="none" stroke="#222" stroke-width="0.95"/>
<rect x="325.70" y="201.60" width="9.60" height="64.70" fill="#e8917f" stroke="#b47163" stroke-width="0.6"/>
<rect x="342.00" y="194.20" width="9.60" height="72.10" fill="#d4544a" stroke="#a54139" stroke-width="0.6"/>
<rect x="358.30" y="202.30" width="9.60" height="64.00" fill="#a98ab3" stroke="#836b8b" stroke-width="0.6"/>
<rect x="374.60" y="201.60" width="9.60" height="64.70" fill="#7a4587" stroke="#5f3569" stroke-width="0.6"/>
<line x1="330.50" y1="197.50" x2="330.50" y2="203.60" stroke="#333" stroke-width="0.7"/>
<line x1="328.50" y1="197.50" x2="332.50" y2="197.50" stroke="#333" stroke-width="0.7"/>
<line x1="328.50" y1="203.60" x2="332.50" y2="203.60" stroke="#333" stroke-width="0.7"/>
<circle cx="326.60" cy="196.50" r="1.7" fill="none" stroke="#222" stroke-width="0.95"/>
<circle cx="330.50" cy="198.30" r="1.7" fill="none" stroke="#222" stroke-width="0.95"/>
<circle cx="334.40" cy="200.00" r="1.7" fill="none" stroke="#222" stroke-width="0.95"/>
<circle cx="327.20" cy="204.60" r="1.7" fill="none" stroke="#222" stroke-width="0.95"/>
<circle cx="334.40" cy="204.40" r="1.7" fill="none" stroke="#222" stroke-width="0.95"/>
<line x1="346.80" y1="191.20" x2="346.80" y2="200.30" stroke="#333" stroke-width="0.7"/>
<line x1="344.80" y1="191.20" x2="348.80" y2="191.20" stroke="#333" stroke-width="0.7"/>
<line x1="344.80" y1="200.30" x2="348.80" y2="200.30" stroke="#333" stroke-width="0.7"/>
<circle cx="343.60" cy="190.20" r="1.7" fill="none" stroke="#222" stroke-width="0.95"/>
<circle cx="346.80" cy="190.90" r="1.7" fill="none" stroke="#222" stroke-width="0.95"/>
<circle cx="350.80" cy="190.20" r="1.7" fill="none" stroke="#222" stroke-width="0.95"/>
<circle cx="343.60" cy="194.80" r="1.7" fill="none" stroke="#222" stroke-width="0.95"/>
<circle cx="350.80" cy="194.80" r="1.7" fill="none" stroke="#222" stroke-width="0.95"/>
<circle cx="346.80" cy="201.30" r="1.7" fill="none" stroke="#222" stroke-width="0.95"/>
<line x1="363.10" y1="193.80" x2="363.10" y2="210.20" stroke="#333" stroke-width="0.7"/>
<line x1="361.10" y1="193.80" x2="365.10" y2="193.80" stroke="#333" stroke-width="0.7"/>
<line x1="361.10" y1="210.20" x2="365.10" y2="210.20" stroke="#333" stroke-width="0.7"/>
<circle cx="363.60" cy="192.80" r="1.7" fill="none" stroke="#222" stroke-width="0.95"/>
<circle cx="363.60" cy="201.30" r="1.7" fill="none" stroke="#222" stroke-width="0.95"/>
<circle cx="359.90" cy="207.50" r="1.7" fill="none" stroke="#222" stroke-width="0.95"/>
<circle cx="367.10" cy="208.50" r="1.7" fill="none" stroke="#222" stroke-width="0.95"/>
<circle cx="359.90" cy="211.20" r="1.7" fill="none" stroke="#222" stroke-width="0.95"/>
<line x1="379.40" y1="195.20" x2="379.40" y2="203.60" stroke="#333" stroke-width="0.7"/>
<line x1="377.40" y1="195.20" x2="381.40" y2="195.20" stroke="#333" stroke-width="0.7"/>
<line x1="377.40" y1="203.60" x2="381.40" y2="203.60" stroke="#333" stroke-width="0.7"/>
<circle cx="380.20" cy="194.20" r="1.7" fill="none" stroke="#222" stroke-width="0.95"/>
<circle cx="383.50" cy="200.00" r="1.7" fill="none" stroke="#222" stroke-width="0.95"/>
<circle cx="376.90" cy="204.60" r="1.7" fill="none" stroke="#222" stroke-width="0.95"/>
<circle cx="380.20" cy="204.60" r="1.7" fill="none" stroke="#222" stroke-width="0.95"/>
<circle cx="383.50" cy="204.60" r="1.7" fill="none" stroke="#222" stroke-width="0.95"/>
<line x1="47.00" y1="269.40" x2="101.90" y2="269.40" stroke="#2a2a2a" stroke-width="1.0"/>
<text x="74.65" y="277.70" font-size="6.1" text-anchor="middle" textLength="13.50" lengthAdjust="spacingAndGlyphs">MPP</text>
<line x1="118.70" y1="269.40" x2="173.20" y2="269.40" stroke="#2a2a2a" stroke-width="1.0"/>
<text x="146.05" y="277.70" font-size="6.1" text-anchor="middle" textLength="16.70" lengthAdjust="spacingAndGlyphs">HPC1</text>
<line x1="189.80" y1="269.40" x2="244.60" y2="269.40" stroke="#2a2a2a" stroke-width="1.0"/>
<text x="217.30" y="277.70" font-size="6.1" text-anchor="middle" textLength="16.60" lengthAdjust="spacingAndGlyphs">HPC2</text>
<line x1="260.10" y1="269.40" x2="314.00" y2="269.40" stroke="#2a2a2a" stroke-width="1.0"/>
<line x1="331.30" y1="269.40" x2="385.60" y2="269.40" stroke="#2a2a2a" stroke-width="1.0"/>
<text x="287.70" y="279.80" font-size="6.1" text-anchor="middle" textLength="34.40" lengthAdjust="spacingAndGlyphs">HPC1 Flt3<tspan font-size="3.8" dy="-2.4">hi</tspan><tspan dy="2.4"></tspan></text>
<text x="287.30" y="287.30" font-size="6.1" text-anchor="middle" textLength="46.90" lengthAdjust="spacingAndGlyphs">lymphoid biased</text>
<text x="358.90" y="279.80" font-size="6.1" text-anchor="middle" textLength="33.30" lengthAdjust="spacingAndGlyphs">HPC1 Flt3<tspan font-size="3.8" dy="-2.4">lo</tspan><tspan dy="2.4"></tspan></text>
<text x="358.50" y="287.30" font-size="6.1" text-anchor="middle" textLength="43.30" lengthAdjust="spacingAndGlyphs">myeloid biased</text>
<text x="34.30" y="378.62" font-size="6.2" text-anchor="end">10<tspan font-size="4.22" dy="-1.90">2</tspan></text>
<text x="34.30" y="357.09" font-size="6.2" text-anchor="end">10<tspan font-size="4.22" dy="-1.90">3</tspan></text>
<text x="34.30" y="335.56" font-size="6.2" text-anchor="end">10<tspan font-size="4.22" dy="-1.90">4</tspan></text>
<text x="34.30" y="314.03" font-size="6.2" text-anchor="end">10<tspan font-size="4.22" dy="-1.90">5</tspan></text>
<text x="18.40" y="337.80" font-size="6.6" text-anchor="middle" textLength="44.90" lengthAdjust="spacingAndGlyphs" transform="rotate(-90 18.40 337.80)">Cells per femur</text>
<rect x="46.00" y="309.80" width="9.60" height="67.20" fill="#e8917f" stroke="#b47163" stroke-width="0.6"/>
<rect x="62.20" y="310.70" width="9.60" height="66.30" fill="#d4544a" stroke="#a54139" stroke-width="0.6"/>
<rect x="78.40" y="310.10" width="9.60" height="66.90" fill="#a98ab3" stroke="#836b8b" stroke-width="0.6"/>
<rect x="94.60" y="310.10" width="9.60" height="66.90" fill="#7a4587" stroke="#5f3569" stroke-width="0.6"/>
<line x1="50.80" y1="306.80" x2="50.80" y2="316.00" stroke="#333" stroke-width="0.7"/>
<line x1="48.80" y1="306.80" x2="52.80" y2="306.80" stroke="#333" stroke-width="0.7"/>
<line x1="48.80" y1="316.00" x2="52.80" y2="316.00" stroke="#333" stroke-width="0.7"/>
<circle cx="47.20" cy="305.80" r="1.7" fill="none" stroke="#222" stroke-width="0.95"/>
<circle cx="54.40" cy="305.80" r="1.7" fill="none" stroke="#222" stroke-width="0.95"/>
<circle cx="47.20" cy="317.00" r="1.7" fill="none" stroke="#222" stroke-width="0.95"/>
<circle cx="51.20" cy="316.30" r="1.7" fill="none" stroke="#222" stroke-width="0.95"/>
<circle cx="54.40" cy="314.30" r="1.7" fill="none" stroke="#222" stroke-width="0.95"/>
<line x1="67.00" y1="307.50" x2="67.00" y2="313.30" stroke="#333" stroke-width="0.7"/>
<line x1="65.00" y1="307.50" x2="69.00" y2="307.50" stroke="#333" stroke-width="0.7"/>
<line x1="65.00" y1="313.30" x2="69.00" y2="313.30" stroke="#333" stroke-width="0.7"/>
<circle cx="66.80" cy="306.50" r="1.7" fill="none" stroke="#222" stroke-width="0.95"/>
<circle cx="63.60" cy="314.30" r="1.7" fill="none" stroke="#222" stroke-width="0.95"/>
<circle cx="66.80" cy="313.00" r="1.7" fill="none" stroke="#222" stroke-width="0.95"/>
<circle cx="70.10" cy="312.10" r="1.7" fill="none" stroke="#222" stroke-width="0.95"/>
<line x1="83.20" y1="304.90" x2="83.20" y2="310.10" stroke="#333" stroke-width="0.7"/>
<line x1="81.20" y1="304.90" x2="85.20" y2="304.90" stroke="#333" stroke-width="0.7"/>
<line x1="81.20" y1="310.10" x2="85.20" y2="310.10" stroke="#333" stroke-width="0.7"/>
<circle cx="83.60" cy="303.90" r="1.7" fill="none" stroke="#222" stroke-width="0.95"/>
<circle cx="79.90" cy="311.10" r="1.7" fill="none" stroke="#222" stroke-width="0.95"/>
<circle cx="83.60" cy="311.10" r="1.7" fill="none" stroke="#222" stroke-width="0.95"/>
<circle cx="87.10" cy="311.10" r="1.7" fill="none" stroke="#222" stroke-width="0.95"/>
<line x1="99.40" y1="305.30" x2="99.40" y2="311.10" stroke="#333" stroke-width="0.7"/>
<line x1="97.40" y1="305.30" x2="101.40" y2="305.30" stroke="#333" stroke-width="0.7"/>
<line x1="97.40" y1="311.10" x2="101.40" y2="311.10" stroke="#333" stroke-width="0.7"/>
<circle cx="99.50" cy="304.30" r="1.7" fill="none" stroke="#222" stroke-width="0.95"/>
<circle cx="96.30" cy="312.10" r="1.7" fill="none" stroke="#222" stroke-width="0.95"/>
<circle cx="100.20" cy="312.10" r="1.7" fill="none" stroke="#222" stroke-width="0.95"/>
<circle cx="103.50" cy="312.10" r="1.7" fill="none" stroke="#222" stroke-width="0.95"/>
<rect x="116.10" y="308.80" width="9.60" height="68.20" fill="#e8917f" stroke="#b47163" stroke-width="0.6"/>
<rect x="132.30" y="310.30" width="9.60" height="66.70" fill="#d4544a" stroke="#a54139" stroke-width="0.6"/>
<rect x="148.50" y="309.40" width="9.60" height="67.60" fill="#a98ab3" stroke="#836b8b" stroke-width="0.6"/>
<rect x="164.70" y="309.40" width="9.60" height="67.60" fill="#7a4587" stroke="#5f3569" stroke-width="0.6"/>
<line x1="120.90" y1="305.50" x2="120.90" y2="314.70" stroke="#333" stroke-width="0.7"/>
<line x1="118.90" y1="305.50" x2="122.90" y2="305.50" stroke="#333" stroke-width="0.7"/>
<line x1="118.90" y1="314.70" x2="122.90" y2="314.70" stroke="#333" stroke-width="0.7"/>
<circle cx="117.20" cy="306.90" r="1.7" fill="none" stroke="#222" stroke-width="0.95"/>
<circle cx="125.10" cy="304.50" r="1.7" fill="none" stroke="#222" stroke-width="0.95"/>
<circle cx="117.20" cy="315.70" r="1.7" fill="none" stroke="#222" stroke-width="0.95"/>
<circle cx="121.20" cy="315.00" r="1.7" fill="none" stroke="#222" stroke-width="0.95"/>
<circle cx="124.40" cy="313.40" r="1.7" fill="none" stroke="#222" stroke-width="0.95"/>
<line x1="137.10" y1="305.50" x2="137.10" y2="311.40" stroke="#333" stroke-width="0.7"/>
<line x1="135.10" y1="305.50" x2="139.10" y2="305.50" stroke="#333" stroke-width="0.7"/>
<line x1="135.10" y1="311.40" x2="139.10" y2="311.40" stroke="#333" stroke-width="0.7"/>
<circle cx="136.80" cy="304.50" r="1.7" fill="none" stroke="#222" stroke-width="0.95"/>
<circle cx="133.60" cy="312.40" r="1.7" fill="none" stroke="#222" stroke-width="0.95"/>
<circle cx="136.80" cy="312.10" r="1.7" fill="none" stroke="#222" stroke-width="0.95"/>
<circle cx="140.80" cy="312.10" r="1.7" fill="none" stroke="#222" stroke-width="0.95"/>
<line x1="153.30" y1="308.40" x2="153.30" y2="314.00" stroke="#333" stroke-width="0.7"/>
<line x1="151.30" y1="308.40" x2="155.30" y2="308.40" stroke="#333" stroke-width="0.7"/>
<line x1="151.30" y1="314.00" x2="155.30" y2="314.00" stroke="#333" stroke-width="0.7"/>
<circle cx="149.90" cy="309.80" r="1.7" fill="none" stroke="#222" stroke-width="0.95"/>
<circle cx="157.10" cy="307.40" r="1.7" fill="none" stroke="#222" stroke-width="0.95"/>
<circle cx="157.10" cy="311.10" r="1.7" fill="none" stroke="#222" stroke-width="0.95"/>
<circle cx="153.60" cy="315.00" r="1.7" fill="none" stroke="#222" stroke-width="0.95"/>
<line x1="169.50" y1="304.90" x2="169.50" y2="311.40" stroke="#333" stroke-width="0.7"/>
<line x1="167.50" y1="304.90" x2="171.50" y2="304.90" stroke="#333" stroke-width="0.7"/>
<line x1="167.50" y1="311.40" x2="171.50" y2="311.40" stroke="#333" stroke-width="0.7"/>
<circle cx="169.50" cy="303.90" r="1.7" fill="none" stroke="#222" stroke-width="0.95"/>
<circle cx="166.30" cy="312.40" r="1.7" fill="none" stroke="#222" stroke-width="0.95"/>
<circle cx="170.20" cy="312.40" r="1.7" fill="none" stroke="#222" stroke-width="0.95"/>
<circle cx="173.50" cy="312.40" r="1.7" fill="none" stroke="#222" stroke-width="0.95"/>
<rect x="186.50" y="332.30" width="9.60" height="44.70" fill="#e8917f" stroke="#b47163" stroke-width="0.6"/>
<rect x="202.70" y="335.60" width="9.60" height="41.40" fill="#d4544a" stroke="#a54139" stroke-width="0.6"/>
<rect x="218.90" y="331.60" width="9.60" height="45.40" fill="#a98ab3" stroke="#836b8b" stroke-width="0.6"/>
<rect x="235.10" y="333.60" width="9.60" height="43.40" fill="#7a4587" stroke="#5f3569" stroke-width="0.6"/>
<line x1="191.30" y1="328.80" x2="191.30" y2="342.10" stroke="#333" stroke-width="0.7"/>
<line x1="189.30" y1="328.80" x2="193.30" y2="328.80" stroke="#333" stroke-width="0.7"/>
<line x1="189.30" y1="342.10" x2="193.30" y2="342.10" stroke="#333" stroke-width="0.7"/>
<circle cx="187.20" cy="327.80" r="1.7" fill="none" stroke="#222" stroke-width="0.95"/>
<circle cx="195.10" cy="327.80" r="1.7" fill="none" stroke="#222" stroke-width="0.95"/>
<circle cx="191.20" cy="335.90" r="1.7" fill="none" stroke="#222" stroke-width="0.95"/>
<circle cx="191.20" cy="343.10" r="1.7" fill="none" stroke="#222" stroke-width="0.95"/>
<line x1="207.50" y1="327.50" x2="207.50" y2="344.70" stroke="#333" stroke-width="0.7"/>
<line x1="205.50" y1="327.50" x2="209.50" y2="327.50" stroke="#333" stroke-width="0.7"/>
<line x1="205.50" y1="344.70" x2="209.50" y2="344.70" stroke="#333" stroke-width="0.7"/>
<circle cx="207.10" cy="326.50" r="1.7" fill="none" stroke="#222" stroke-width="0.95"/>
<circle cx="204.00" cy="339.80" r="1.7" fill="none" stroke="#222" stroke-width="0.95"/>
<circle cx="211.00" cy="340.90" r="1.7" fill="none" stroke="#222" stroke-width="0.95"/>
<circle cx="207.50" cy="345.70" r="1.7" fill="none" stroke="#222" stroke-width="0.95"/>
<line x1="223.70" y1="325.40" x2="223.70" y2="337.30" stroke="#333" stroke-width="0.7"/>
<line x1="221.70" y1="325.40" x2="225.70" y2="325.40" stroke="#333" stroke-width="0.7"/>
<line x1="221.70" y1="337.30" x2="225.70" y2="337.30" stroke="#333" stroke-width="0.7"/>
<circle cx="223.60" cy="324.40" r="1.7" fill="none" stroke="#222" stroke-width="0.95"/>
<circle cx="227.10" cy="335.90" r="1.7" fill="none" stroke="#222" stroke-width="0.95"/>
<circle cx="219.90" cy="338.30" r="1.7" fill="none" stroke="#222" stroke-width="0.95"/>
<circle cx="223.60" cy="331.50" r="1.7" fill="none" stroke="#222" stroke-width="0.95"/>
<line x1="239.90" y1="328.80" x2="239.90" y2="342.80" stroke="#333" stroke-width="0.7"/>
<line x1="237.90" y1="328.80" x2="241.90" y2="328.80" stroke="#333" stroke-width="0.7"/>
<line x1="237.90" y1="342.80" x2="241.90" y2="342.80" stroke="#333" stroke-width="0.7"/>
<circle cx="243.50" cy="327.80" r="1.7" fill="none" stroke="#222" stroke-width="0.95"/>
<circle cx="236.30" cy="330.00" r="1.7" fill="none" stroke="#222" stroke-width="0.95"/>
<circle cx="239.50" cy="337.20" r="1.7" fill="none" stroke="#222" stroke-width="0.95"/>
<circle cx="239.50" cy="343.80" r="1.7" fill="none" stroke="#222" stroke-width="0.95"/>
<rect x="256.30" y="322.30" width="9.60" height="54.70" fill="#e8917f" stroke="#b47163" stroke-width="0.6"/>
<rect x="272.50" y="326.20" width="9.60" height="50.80" fill="#d4544a" stroke="#a54139" stroke-width="0.6"/>
<rect x="288.70" y="319.00" width="9.60" height="58.00" fill="#a98ab3" stroke="#836b8b" stroke-width="0.6"/>
<rect x="304.90" y="323.60" width="9.60" height="53.40" fill="#7a4587" stroke="#5f3569" stroke-width="0.6"/>
<line x1="261.10" y1="318.80" x2="261.10" y2="334.30" stroke="#333" stroke-width="0.7"/>
<line x1="259.10" y1="318.80" x2="263.10" y2="318.80" stroke="#333" stroke-width="0.7"/>
<line x1="259.10" y1="334.30" x2="263.10" y2="334.30" stroke="#333" stroke-width="0.7"/>
<circle cx="261.20" cy="317.80" r="1.7" fill="none" stroke="#222" stroke-width="0.95"/>
<circle cx="257.50" cy="321.70" r="1.7" fill="none" stroke="#222" stroke-width="0.95"/>
<circle cx="265.10" cy="324.60" r="1.7" fill="none" stroke="#222" stroke-width="0.95"/>
<circle cx="261.20" cy="335.30" r="1.7" fill="none" stroke="#222" stroke-width="0.95"/>
<line x1="277.30" y1="319.30" x2="277.30" y2="336.00" stroke="#333" stroke-width="0.7"/>
<line x1="275.30" y1="319.30" x2="279.30" y2="319.30" stroke="#333" stroke-width="0.7"/>
<line x1="275.30" y1="336.00" x2="279.30" y2="336.00" stroke="#333" stroke-width="0.7"/>
<circle cx="277.50" cy="318.30" r="1.7" fill="none" stroke="#222" stroke-width="0.95"/>
<circle cx="277.50" cy="324.60" r="1.7" fill="none" stroke="#222" stroke-width="0.95"/>
<circle cx="277.50" cy="329.80" r="1.7" fill="none" stroke="#222" stroke-width="0.95"/>
<circle cx="277.50" cy="337.00" r="1.7" fill="none" stroke="#222" stroke-width="0.95"/>
<line x1="293.50" y1="313.60" x2="293.50" y2="327.80" stroke="#333" stroke-width="0.7"/>
<line x1="291.50" y1="313.60" x2="295.50" y2="313.60" stroke="#333" stroke-width="0.7"/>
<line x1="291.50" y1="327.80" x2="295.50" y2="327.80" stroke="#333" stroke-width="0.7"/>
<circle cx="289.90" cy="315.20" r="1.7" fill="none" stroke="#222" stroke-width="0.95"/>
<circle cx="297.10" cy="312.60" r="1.7" fill="none" stroke="#222" stroke-width="0.95"/>
<circle cx="297.10" cy="325.70" r="1.7" fill="none" stroke="#222" stroke-width="0.95"/>
<circle cx="289.90" cy="328.80" r="1.7" fill="none" stroke="#222" stroke-width="0.95"/>
<line x1="309.70" y1="319.10" x2="309.70" y2="328.80" stroke="#333" stroke-width="0.7"/>
<line x1="307.70" y1="319.10" x2="311.70" y2="319.10" stroke="#333" stroke-width="0.7"/>
<line x1="307.70" y1="328.80" x2="311.70" y2="328.80" stroke="#333" stroke-width="0.7"/>
<circle cx="313.50" cy="318.10" r="1.7" fill="none" stroke="#222" stroke-width="0.95"/>
<circle cx="306.70" cy="320.70" r="1.7" fill="none" stroke="#222" stroke-width="0.95"/>
<circle cx="309.50" cy="325.90" r="1.7" fill="none" stroke="#222" stroke-width="0.95"/>
<circle cx="309.50" cy="329.80" r="1.7" fill="none" stroke="#222" stroke-width="0.95"/>
<line x1="47.00" y1="380.40" x2="101.30" y2="380.40" stroke="#2a2a2a" stroke-width="1.0"/>
<text x="74.25" y="388.60" font-size="6.1" text-anchor="middle" textLength="14.30" lengthAdjust="spacingAndGlyphs">CMP</text>
<line x1="118.10" y1="380.40" x2="172.90" y2="380.40" stroke="#2a2a2a" stroke-width="1.0"/>
<text x="145.90" y="388.60" font-size="6.1" text-anchor="middle" textLength="15.20" lengthAdjust="spacingAndGlyphs">GMP</text>
<line x1="190.80" y1="380.40" x2="245.20" y2="380.40" stroke="#2a2a2a" stroke-width="1.0"/>
<text x="218.50" y="388.60" font-size="6.1" text-anchor="middle" textLength="13.50" lengthAdjust="spacingAndGlyphs">MEP</text>
<line x1="257.30" y1="380.40" x2="311.70" y2="380.40" stroke="#2a2a2a" stroke-width="1.0"/>
<text x="284.40" y="388.60" font-size="6.1" text-anchor="middle" textLength="18.30" lengthAdjust="spacingAndGlyphs">CFU-E</text>
<rect x="353.70" y="314.20" width="9.00" height="8.70" fill="#e8917f"/>
<rect x="353.70" y="328.50" width="9.00" height="8.70" fill="#d4544a"/>
<rect x="353.70" y="342.50" width="9.00" height="8.70" fill="#a98ab3"/>
<rect x="353.70" y="356.90" width="9.00" height="8.70" fill="#7a4587"/>
<text x="366.20" y="319.90" font-size="6.6" font-style="italic" style="fill:#3a3a44" textLength="20.00" lengthAdjust="spacingAndGlyphs">Cul5<tspan font-size="4.2" dy="-2.6">fl/fl</tspan><tspan dy="2.6"></tspan></text>
<text x="366.20" y="334.00" font-size="6.6" font-style="italic" style="fill:#3a3a44" textLength="42.00" lengthAdjust="spacingAndGlyphs">Cul5<tspan font-size="4.2" dy="-2.6">fl/fl</tspan><tspan dy="2.6"> VavCre</tspan></text>
<text x="366.20" y="348.10" font-size="6.6" font-style="italic" style="fill:#3a3a44" textLength="69.00" lengthAdjust="spacingAndGlyphs">βc<tspan font-size="4.2" dy="-2.6">-/-</tspan><tspan dy="2.6"> βIL3</tspan><tspan font-size="4.2" dy="-2.6">-/-</tspan><tspan dy="2.6">Cul5</tspan><tspan font-size="4.2" dy="-2.6">+/+ or fl/fl</tspan><tspan dy="2.6"></tspan></text>
<text x="366.20" y="362.50" font-size="6.6" font-style="italic" style="fill:#3a3a44" textLength="77.80" lengthAdjust="spacingAndGlyphs">βc<tspan font-size="4.2" dy="-2.6">-/-</tspan><tspan dy="2.6"> βIL3</tspan><tspan font-size="4.2" dy="-2.6">-/-</tspan><tspan dy="2.6">Cul5</tspan><tspan font-size="4.2" dy="-2.6">fl/fl</tspan><tspan dy="2.6"> VavCre</tspan></text>
<text x="117.00" y="413.20" font-size="7.8" textLength="50.60" lengthAdjust="spacingAndGlyphs">Experiment 1</text>
<line x1="88.00" y1="417.50" x2="197.70" y2="417.50" stroke="#333" stroke-width="0.9"/>
<text x="336.70" y="413.20" font-size="7.8" textLength="51.00" lengthAdjust="spacingAndGlyphs">Experiment 2</text>
<line x1="307.70" y1="417.50" x2="417.00" y2="417.50" stroke="#333" stroke-width="0.9"/>
<line x1="39.85" y1="432.30" x2="39.85" y2="524.00" stroke="#333" stroke-width="1.4"/>
<line x1="37.05" y1="523.40" x2="39.85" y2="523.40" stroke="#333" stroke-width="1.2"/>
<text x="34.40" y="525.41" font-size="7.0" text-anchor="end" textLength="3.89" lengthAdjust="spacingAndGlyphs">0</text>
<line x1="37.05" y1="505.78" x2="39.85" y2="505.78" stroke="#333" stroke-width="1.2"/>
<text x="34.40" y="507.79" font-size="7.0" text-anchor="end" textLength="3.89" lengthAdjust="spacingAndGlyphs">2</text>
<line x1="37.05" y1="488.16" x2="39.85" y2="488.16" stroke="#333" stroke-width="1.2"/>
<text x="34.40" y="490.17" font-size="7.0" text-anchor="end" textLength="3.89" lengthAdjust="spacingAndGlyphs">4</text>
<line x1="37.05" y1="470.54" x2="39.85" y2="470.54" stroke="#333" stroke-width="1.2"/>
<text x="34.40" y="472.55" font-size="7.0" text-anchor="end" textLength="3.89" lengthAdjust="spacingAndGlyphs">6</text>
<line x1="37.05" y1="452.92" x2="39.85" y2="452.92" stroke="#333" stroke-width="1.2"/>
<text x="34.40" y="454.93" font-size="7.0" text-anchor="end" textLength="3.89" lengthAdjust="spacingAndGlyphs">8</text>
<line x1="37.05" y1="435.30" x2="39.85" y2="435.30" stroke="#333" stroke-width="1.2"/>
<text x="34.40" y="437.31" font-size="7.0" text-anchor="end" textLength="7.01" lengthAdjust="spacingAndGlyphs">10</text>
<line x1="39.25" y1="523.40" x2="130.79" y2="523.40" stroke="#333" stroke-width="1.4"/>
<line x1="39.85" y1="523.40" x2="39.85" y2="525.80" stroke="#333" stroke-width="1.2"/>
<text x="39.85" y="534.70" font-size="6.6" text-anchor="middle">0</text>
<line x1="69.33" y1="523.40" x2="69.33" y2="525.80" stroke="#333" stroke-width="1.2"/>
<text x="69.33" y="534.70" font-size="6.6" text-anchor="middle">2</text>
<line x1="98.81" y1="523.40" x2="98.81" y2="525.80" stroke="#333" stroke-width="1.2"/>
<text x="98.81" y="534.70" font-size="6.6" text-anchor="middle">4</text>
<line x1="128.29" y1="523.40" x2="128.29" y2="525.80" stroke="#333" stroke-width="1.2"/>
<text x="128.29" y="534.70" font-size="6.6" text-anchor="middle">6</text>
<text x="85.65" y="427.60" font-size="8.2" text-anchor="middle">IL-3</text>
<polyline points="39.85,523.40 41.00,521.64 42.15,520.49 44.46,520.49 49.06,519.52 58.28,518.20 76.70,513.80 113.55,513.53" fill="none" stroke="#da958c" stroke-width="1.1"/>
<circle cx="39.85" cy="523.40" r="1.8" fill="#da958c"/>
<circle cx="41.00" cy="521.64" r="1.8" fill="#da958c"/>
<circle cx="42.15" cy="520.49" r="1.8" fill="#da958c"/>
<circle cx="44.46" cy="520.49" r="1.8" fill="#da958c"/>
<circle cx="49.06" cy="519.52" r="1.8" fill="#da958c"/>
<circle cx="58.28" cy="518.20" r="1.8" fill="#da958c"/>
<circle cx="76.70" cy="513.80" r="1.8" fill="#da958c"/>
<circle cx="113.55" cy="513.53" r="1.8" fill="#da958c"/>
<polyline points="39.85,523.40 41.00,522.08 42.15,521.20 44.46,520.76 49.06,519.88 58.28,518.20 76.70,516.62 113.55,514.15" fill="none" stroke="#da958c" stroke-width="1.1"/>
<circle cx="39.85" cy="523.40" r="1.8" fill="#da958c"/>
<circle cx="41.00" cy="522.08" r="1.8" fill="#da958c"/>
<circle cx="42.15" cy="521.20" r="1.8" fill="#da958c"/>
<circle cx="44.46" cy="520.76" r="1.8" fill="#da958c"/>
<circle cx="49.06" cy="519.88" r="1.8" fill="#da958c"/>
<circle cx="58.28" cy="518.20" r="1.8" fill="#da958c"/>
<circle cx="76.70" cy="516.62" r="1.8" fill="#da958c"/>
<circle cx="113.55" cy="514.15" r="1.8" fill="#da958c"/>
<line x1="42.15" y1="508.60" x2="42.15" y2="510.36" stroke="#a8606c" stroke-width="0.7"/>
<line x1="40.15" y1="508.60" x2="44.15" y2="508.60" stroke="#a8606c" stroke-width="0.7"/>
<line x1="40.15" y1="510.36" x2="44.15" y2="510.36" stroke="#a8606c" stroke-width="0.7"/>
<line x1="44.46" y1="501.38" x2="44.46" y2="504.90" stroke="#a8606c" stroke-width="0.7"/>
<line x1="42.46" y1="501.38" x2="46.46" y2="501.38" stroke="#a8606c" stroke-width="0.7"/>
<line x1="42.46" y1="504.90" x2="46.46" y2="504.90" stroke="#a8606c" stroke-width="0.7"/>
<line x1="49.06" y1="475.30" x2="49.06" y2="498.20" stroke="#a8606c" stroke-width="0.7"/>
<line x1="47.06" y1="475.30" x2="51.06" y2="475.30" stroke="#a8606c" stroke-width="0.7"/>
<line x1="47.06" y1="498.20" x2="51.06" y2="498.20" stroke="#a8606c" stroke-width="0.7"/>
<line x1="58.28" y1="473.45" x2="58.28" y2="477.85" stroke="#a8606c" stroke-width="0.7"/>
<line x1="56.28" y1="473.45" x2="60.28" y2="473.45" stroke="#a8606c" stroke-width="0.7"/>
<line x1="56.28" y1="477.85" x2="60.28" y2="477.85" stroke="#a8606c" stroke-width="0.7"/>
<line x1="76.70" y1="447.90" x2="76.70" y2="458.47" stroke="#a8606c" stroke-width="0.7"/>
<line x1="74.70" y1="447.90" x2="78.70" y2="447.90" stroke="#a8606c" stroke-width="0.7"/>
<line x1="74.70" y1="458.47" x2="78.70" y2="458.47" stroke="#a8606c" stroke-width="0.7"/>
<line x1="113.55" y1="443.14" x2="113.55" y2="452.83" stroke="#a8606c" stroke-width="0.7"/>
<line x1="111.55" y1="443.14" x2="115.55" y2="443.14" stroke="#a8606c" stroke-width="0.7"/>
<line x1="111.55" y1="452.83" x2="115.55" y2="452.83" stroke="#a8606c" stroke-width="0.7"/>
<polyline points="39.85,523.40 41.00,514.68 42.15,509.48 44.46,503.14 49.06,486.75 58.28,475.65 76.70,453.18 113.55,447.99" fill="none" stroke="#b9112f" stroke-width="1.1"/>
<circle cx="39.85" cy="523.40" r="2.1" fill="#b9112f"/>
<circle cx="41.00" cy="514.68" r="2.1" fill="#b9112f"/>
<circle cx="42.15" cy="509.48" r="2.1" fill="#b9112f"/>
<circle cx="44.46" cy="503.14" r="2.1" fill="#b9112f"/>
<circle cx="49.06" cy="486.75" r="2.1" fill="#b9112f"/>
<circle cx="58.28" cy="475.65" r="2.1" fill="#b9112f"/>
<circle cx="76.70" cy="453.18" r="2.1" fill="#b9112f"/>
<circle cx="113.55" cy="447.99" r="2.1" fill="#b9112f"/>
<line x1="42.15" y1="509.30" x2="42.15" y2="511.07" stroke="#a8606c" stroke-width="0.7"/>
<line x1="40.15" y1="509.30" x2="44.15" y2="509.30" stroke="#a8606c" stroke-width="0.7"/>
<line x1="40.15" y1="511.07" x2="44.15" y2="511.07" stroke="#a8606c" stroke-width="0.7"/>
<line x1="44.46" y1="501.38" x2="44.46" y2="504.90" stroke="#a8606c" stroke-width="0.7"/>
<line x1="42.46" y1="501.38" x2="46.46" y2="501.38" stroke="#a8606c" stroke-width="0.7"/>
<line x1="42.46" y1="504.90" x2="46.46" y2="504.90" stroke="#a8606c" stroke-width="0.7"/>
<line x1="49.06" y1="486.40" x2="49.06" y2="498.73" stroke="#a8606c" stroke-width="0.7"/>
<line x1="47.06" y1="486.40" x2="51.06" y2="486.40" stroke="#a8606c" stroke-width="0.7"/>
<line x1="47.06" y1="498.73" x2="51.06" y2="498.73" stroke="#a8606c" stroke-width="0.7"/>
<line x1="58.28" y1="473.18" x2="58.28" y2="485.52" stroke="#a8606c" stroke-width="0.7"/>
<line x1="56.28" y1="473.18" x2="60.28" y2="473.18" stroke="#a8606c" stroke-width="0.7"/>
<line x1="56.28" y1="485.52" x2="60.28" y2="485.52" stroke="#a8606c" stroke-width="0.7"/>
<line x1="76.70" y1="449.84" x2="76.70" y2="458.65" stroke="#a8606c" stroke-width="0.7"/>
<line x1="74.70" y1="449.84" x2="78.70" y2="449.84" stroke="#a8606c" stroke-width="0.7"/>
<line x1="74.70" y1="458.65" x2="78.70" y2="458.65" stroke="#a8606c" stroke-width="0.7"/>
<line x1="113.55" y1="448.96" x2="113.55" y2="460.41" stroke="#a8606c" stroke-width="0.7"/>
<line x1="111.55" y1="448.96" x2="115.55" y2="448.96" stroke="#a8606c" stroke-width="0.7"/>
<line x1="111.55" y1="460.41" x2="115.55" y2="460.41" stroke="#a8606c" stroke-width="0.7"/>
<polyline points="39.85,523.40 41.00,514.59 42.15,510.19 44.46,503.14 49.06,492.56 58.28,479.35 76.70,454.24 113.55,454.68" fill="none" stroke="#b9112f" stroke-width="1.1"/>
<circle cx="39.85" cy="523.40" r="2.1" fill="#b9112f"/>
<circle cx="41.00" cy="514.59" r="2.1" fill="#b9112f"/>
<circle cx="42.15" cy="510.19" r="2.1" fill="#b9112f"/>
<circle cx="44.46" cy="503.14" r="2.1" fill="#b9112f"/>
<circle cx="49.06" cy="492.56" r="2.1" fill="#b9112f"/>
<circle cx="58.28" cy="479.35" r="2.1" fill="#b9112f"/>
<circle cx="76.70" cy="454.24" r="2.1" fill="#b9112f"/>
<circle cx="113.55" cy="454.68" r="2.1" fill="#b9112f"/>
<line x1="140.60" y1="432.30" x2="140.60" y2="524.00" stroke="#333" stroke-width="1.4"/>
<line x1="137.80" y1="523.40" x2="140.60" y2="523.40" stroke="#333" stroke-width="1.2"/>
<line x1="137.80" y1="505.78" x2="140.60" y2="505.78" stroke="#333" stroke-width="1.2"/>
<line x1="137.80" y1="488.16" x2="140.60" y2="488.16" stroke="#333" stroke-width="1.2"/>
<line x1="137.80" y1="470.54" x2="140.60" y2="470.54" stroke="#333" stroke-width="1.2"/>
<line x1="137.80" y1="452.92" x2="140.60" y2="452.92" stroke="#333" stroke-width="1.2"/>
<line x1="137.80" y1="435.30" x2="140.60" y2="435.30" stroke="#333" stroke-width="1.2"/>
<line x1="140.00" y1="523.40" x2="231.54" y2="523.40" stroke="#333" stroke-width="1.4"/>
<line x1="140.60" y1="523.40" x2="140.60" y2="525.80" stroke="#333" stroke-width="1.2"/>
<text x="140.60" y="534.70" font-size="6.6" text-anchor="middle">0</text>
<line x1="170.08" y1="523.40" x2="170.08" y2="525.80" stroke="#333" stroke-width="1.2"/>
<text x="170.08" y="534.70" font-size="6.6" text-anchor="middle">2</text>
<line x1="199.56" y1="523.40" x2="199.56" y2="525.80" stroke="#333" stroke-width="1.2"/>
<text x="199.56" y="534.70" font-size="6.6" text-anchor="middle">4</text>
<line x1="229.04" y1="523.40" x2="229.04" y2="525.80" stroke="#333" stroke-width="1.2"/>
<text x="229.04" y="534.70" font-size="6.6" text-anchor="middle">6</text>
<text x="186.00" y="427.60" font-size="8.2" text-anchor="middle">GM-CSF</text>
<polyline points="140.60,523.40 141.75,522.52 142.90,521.64 145.21,520.76 149.81,520.32 159.03,519.88 177.45,518.29 214.30,517.76" fill="none" stroke="#da958c" stroke-width="1.1"/>
<circle cx="140.60" cy="523.40" r="1.8" fill="#da958c"/>
<circle cx="141.75" cy="522.52" r="1.8" fill="#da958c"/>
<circle cx="142.90" cy="521.64" r="1.8" fill="#da958c"/>
<circle cx="145.21" cy="520.76" r="1.8" fill="#da958c"/>
<circle cx="149.81" cy="520.32" r="1.8" fill="#da958c"/>
<circle cx="159.03" cy="519.88" r="1.8" fill="#da958c"/>
<circle cx="177.45" cy="518.29" r="1.8" fill="#da958c"/>
<circle cx="214.30" cy="517.76" r="1.8" fill="#da958c"/>
<polyline points="140.60,523.40 141.75,522.96 142.90,522.52 145.21,522.08 149.81,521.64 159.03,521.20 177.45,520.32 214.30,518.29" fill="none" stroke="#da958c" stroke-width="1.1"/>
<circle cx="140.60" cy="523.40" r="1.8" fill="#da958c"/>
<circle cx="141.75" cy="522.96" r="1.8" fill="#da958c"/>
<circle cx="142.90" cy="522.52" r="1.8" fill="#da958c"/>
<circle cx="145.21" cy="522.08" r="1.8" fill="#da958c"/>
<circle cx="149.81" cy="521.64" r="1.8" fill="#da958c"/>
<circle cx="159.03" cy="521.20" r="1.8" fill="#da958c"/>
<circle cx="177.45" cy="520.32" r="1.8" fill="#da958c"/>
<circle cx="214.30" cy="518.29" r="1.8" fill="#da958c"/>
<line x1="142.90" y1="516.35" x2="142.90" y2="519.88" stroke="#a8606c" stroke-width="0.7"/>
<line x1="140.90" y1="516.35" x2="144.90" y2="516.35" stroke="#a8606c" stroke-width="0.7"/>
<line x1="140.90" y1="519.88" x2="144.90" y2="519.88" stroke="#a8606c" stroke-width="0.7"/>
<line x1="145.21" y1="511.24" x2="145.21" y2="514.77" stroke="#a8606c" stroke-width="0.7"/>
<line x1="143.21" y1="511.24" x2="147.21" y2="511.24" stroke="#a8606c" stroke-width="0.7"/>
<line x1="143.21" y1="514.77" x2="147.21" y2="514.77" stroke="#a8606c" stroke-width="0.7"/>
<line x1="149.81" y1="509.48" x2="149.81" y2="514.77" stroke="#a8606c" stroke-width="0.7"/>
<line x1="147.81" y1="509.48" x2="151.81" y2="509.48" stroke="#a8606c" stroke-width="0.7"/>
<line x1="147.81" y1="514.77" x2="151.81" y2="514.77" stroke="#a8606c" stroke-width="0.7"/>
<line x1="159.03" y1="503.14" x2="159.03" y2="508.42" stroke="#a8606c" stroke-width="0.7"/>
<line x1="157.03" y1="503.14" x2="161.03" y2="503.14" stroke="#a8606c" stroke-width="0.7"/>
<line x1="157.03" y1="508.42" x2="161.03" y2="508.42" stroke="#a8606c" stroke-width="0.7"/>
<line x1="177.45" y1="502.17" x2="177.45" y2="504.81" stroke="#a8606c" stroke-width="0.7"/>
<line x1="175.45" y1="502.17" x2="179.45" y2="502.17" stroke="#a8606c" stroke-width="0.7"/>
<line x1="175.45" y1="504.81" x2="179.45" y2="504.81" stroke="#a8606c" stroke-width="0.7"/>
<line x1="214.30" y1="493.89" x2="214.30" y2="501.82" stroke="#a8606c" stroke-width="0.7"/>
<line x1="212.30" y1="493.89" x2="216.30" y2="493.89" stroke="#a8606c" stroke-width="0.7"/>
<line x1="212.30" y1="501.82" x2="216.30" y2="501.82" stroke="#a8606c" stroke-width="0.7"/>
<polyline points="140.60,523.40 141.75,520.76 142.90,518.11 145.21,513.00 149.81,512.12 159.03,505.78 177.45,503.49 214.30,497.85" fill="none" stroke="#b9112f" stroke-width="1.1"/>
<circle cx="140.60" cy="523.40" r="2.1" fill="#b9112f"/>
<circle cx="141.75" cy="520.76" r="2.1" fill="#b9112f"/>
<circle cx="142.90" cy="518.11" r="2.1" fill="#b9112f"/>
<circle cx="145.21" cy="513.00" r="2.1" fill="#b9112f"/>
<circle cx="149.81" cy="512.12" r="2.1" fill="#b9112f"/>
<circle cx="159.03" cy="505.78" r="2.1" fill="#b9112f"/>
<circle cx="177.45" cy="503.49" r="2.1" fill="#b9112f"/>
<circle cx="214.30" cy="497.85" r="2.1" fill="#b9112f"/>
<line x1="142.90" y1="517.67" x2="142.90" y2="519.44" stroke="#a8606c" stroke-width="0.7"/>
<line x1="140.90" y1="517.67" x2="144.90" y2="517.67" stroke="#a8606c" stroke-width="0.7"/>
<line x1="140.90" y1="519.44" x2="144.90" y2="519.44" stroke="#a8606c" stroke-width="0.7"/>
<line x1="145.21" y1="513.27" x2="145.21" y2="516.79" stroke="#a8606c" stroke-width="0.7"/>
<line x1="143.21" y1="513.27" x2="147.21" y2="513.27" stroke="#a8606c" stroke-width="0.7"/>
<line x1="143.21" y1="516.79" x2="147.21" y2="516.79" stroke="#a8606c" stroke-width="0.7"/>
<line x1="149.81" y1="513.80" x2="149.81" y2="517.32" stroke="#a8606c" stroke-width="0.7"/>
<line x1="147.81" y1="513.80" x2="151.81" y2="513.80" stroke="#a8606c" stroke-width="0.7"/>
<line x1="147.81" y1="517.32" x2="151.81" y2="517.32" stroke="#a8606c" stroke-width="0.7"/>
<line x1="159.03" y1="516.00" x2="159.03" y2="519.52" stroke="#a8606c" stroke-width="0.7"/>
<line x1="157.03" y1="516.00" x2="161.03" y2="516.00" stroke="#a8606c" stroke-width="0.7"/>
<line x1="157.03" y1="519.52" x2="161.03" y2="519.52" stroke="#a8606c" stroke-width="0.7"/>
<line x1="177.45" y1="510.63" x2="177.45" y2="515.91" stroke="#a8606c" stroke-width="0.7"/>
<line x1="175.45" y1="510.63" x2="179.45" y2="510.63" stroke="#a8606c" stroke-width="0.7"/>
<line x1="175.45" y1="515.91" x2="179.45" y2="515.91" stroke="#a8606c" stroke-width="0.7"/>
<line x1="214.30" y1="511.51" x2="214.30" y2="516.79" stroke="#a8606c" stroke-width="0.7"/>
<line x1="212.30" y1="511.51" x2="216.30" y2="511.51" stroke="#a8606c" stroke-width="0.7"/>
<line x1="212.30" y1="516.79" x2="216.30" y2="516.79" stroke="#a8606c" stroke-width="0.7"/>
<polyline points="140.60,523.40 141.75,520.76 142.90,518.55 145.21,515.03 149.81,515.56 159.03,517.76 177.45,513.27 214.30,514.15" fill="none" stroke="#b9112f" stroke-width="1.1"/>
<circle cx="140.60" cy="523.40" r="2.1" fill="#b9112f"/>
<circle cx="141.75" cy="520.76" r="2.1" fill="#b9112f"/>
<circle cx="142.90" cy="518.55" r="2.1" fill="#b9112f"/>
<circle cx="145.21" cy="515.03" r="2.1" fill="#b9112f"/>
<circle cx="149.81" cy="515.56" r="2.1" fill="#b9112f"/>
<circle cx="159.03" cy="517.76" r="2.1" fill="#b9112f"/>
<circle cx="177.45" cy="513.27" r="2.1" fill="#b9112f"/>
<circle cx="214.30" cy="514.15" r="2.1" fill="#b9112f"/>
<line x1="259.60" y1="432.30" x2="259.60" y2="523.70" stroke="#333" stroke-width="1.4"/>
<line x1="256.80" y1="523.10" x2="259.60" y2="523.10" stroke="#333" stroke-width="1.2"/>
<text x="254.15" y="525.11" font-size="7.0" text-anchor="end" textLength="3.89" lengthAdjust="spacingAndGlyphs">0</text>
<line x1="256.80" y1="505.50" x2="259.60" y2="505.50" stroke="#333" stroke-width="1.2"/>
<text x="254.15" y="507.51" font-size="7.0" text-anchor="end" textLength="3.89" lengthAdjust="spacingAndGlyphs">1</text>
<line x1="256.80" y1="487.90" x2="259.60" y2="487.90" stroke="#333" stroke-width="1.2"/>
<text x="254.15" y="489.91" font-size="7.0" text-anchor="end" textLength="3.89" lengthAdjust="spacingAndGlyphs">2</text>
<line x1="256.80" y1="470.30" x2="259.60" y2="470.30" stroke="#333" stroke-width="1.2"/>
<text x="254.15" y="472.31" font-size="7.0" text-anchor="end" textLength="3.89" lengthAdjust="spacingAndGlyphs">3</text>
<line x1="256.80" y1="452.70" x2="259.60" y2="452.70" stroke="#333" stroke-width="1.2"/>
<text x="254.15" y="454.71" font-size="7.0" text-anchor="end" textLength="3.89" lengthAdjust="spacingAndGlyphs">4</text>
<line x1="256.80" y1="435.10" x2="259.60" y2="435.10" stroke="#333" stroke-width="1.2"/>
<text x="254.15" y="437.11" font-size="7.0" text-anchor="end" textLength="3.89" lengthAdjust="spacingAndGlyphs">5</text>
<line x1="259.00" y1="523.10" x2="350.30" y2="523.10" stroke="#333" stroke-width="1.4"/>
<line x1="259.60" y1="523.10" x2="259.60" y2="525.50" stroke="#333" stroke-width="1.2"/>
<text x="259.60" y="534.40" font-size="6.6" text-anchor="middle">0</text>
<line x1="289.00" y1="523.10" x2="289.00" y2="525.50" stroke="#333" stroke-width="1.2"/>
<text x="289.00" y="534.40" font-size="6.6" text-anchor="middle">2</text>
<line x1="318.40" y1="523.10" x2="318.40" y2="525.50" stroke="#333" stroke-width="1.2"/>
<text x="318.40" y="534.40" font-size="6.6" text-anchor="middle">4</text>
<line x1="347.80" y1="523.10" x2="347.80" y2="525.50" stroke="#333" stroke-width="1.2"/>
<text x="347.80" y="534.40" font-size="6.6" text-anchor="middle">6</text>
<text x="305.80" y="427.60" font-size="8.2" text-anchor="middle">IL-3</text>
<polyline points="259.60,523.10 260.75,520.46 261.89,519.58 264.19,518.70 268.79,516.06 277.98,513.95 296.35,509.72 333.10,510.96" fill="none" stroke="#da958c" stroke-width="1.1"/>
<circle cx="259.60" cy="523.10" r="1.8" fill="#da958c"/>
<circle cx="260.75" cy="520.46" r="1.8" fill="#da958c"/>
<circle cx="261.89" cy="519.58" r="1.8" fill="#da958c"/>
<circle cx="264.19" cy="518.70" r="1.8" fill="#da958c"/>
<circle cx="268.79" cy="516.06" r="1.8" fill="#da958c"/>
<circle cx="277.98" cy="513.95" r="1.8" fill="#da958c"/>
<circle cx="296.35" cy="509.72" r="1.8" fill="#da958c"/>
<circle cx="333.10" cy="510.96" r="1.8" fill="#da958c"/>
<polyline points="259.60,523.10 260.75,521.34 261.89,520.46 264.19,519.23 268.79,516.94 277.98,514.30 296.35,513.77 333.10,511.13" fill="none" stroke="#da958c" stroke-width="1.1"/>
<circle cx="259.60" cy="523.10" r="1.8" fill="#da958c"/>
<circle cx="260.75" cy="521.34" r="1.8" fill="#da958c"/>
<circle cx="261.89" cy="520.46" r="1.8" fill="#da958c"/>
<circle cx="264.19" cy="519.23" r="1.8" fill="#da958c"/>
<circle cx="268.79" cy="516.94" r="1.8" fill="#da958c"/>
<circle cx="277.98" cy="514.30" r="1.8" fill="#da958c"/>
<circle cx="296.35" cy="513.77" r="1.8" fill="#da958c"/>
<circle cx="333.10" cy="511.13" r="1.8" fill="#da958c"/>
<line x1="264.19" y1="491.77" x2="264.19" y2="495.29" stroke="#a8606c" stroke-width="0.7"/>
<line x1="262.19" y1="491.77" x2="266.19" y2="491.77" stroke="#a8606c" stroke-width="0.7"/>
<line x1="262.19" y1="495.29" x2="266.19" y2="495.29" stroke="#a8606c" stroke-width="0.7"/>
<line x1="268.79" y1="474.88" x2="268.79" y2="483.68" stroke="#a8606c" stroke-width="0.7"/>
<line x1="266.79" y1="474.88" x2="270.79" y2="474.88" stroke="#a8606c" stroke-width="0.7"/>
<line x1="266.79" y1="483.68" x2="270.79" y2="483.68" stroke="#a8606c" stroke-width="0.7"/>
<line x1="277.98" y1="459.92" x2="277.98" y2="468.72" stroke="#a8606c" stroke-width="0.7"/>
<line x1="275.98" y1="459.92" x2="279.98" y2="459.92" stroke="#a8606c" stroke-width="0.7"/>
<line x1="275.98" y1="468.72" x2="279.98" y2="468.72" stroke="#a8606c" stroke-width="0.7"/>
<line x1="296.35" y1="442.32" x2="296.35" y2="446.54" stroke="#a8606c" stroke-width="0.7"/>
<line x1="294.35" y1="442.32" x2="298.35" y2="442.32" stroke="#a8606c" stroke-width="0.7"/>
<line x1="294.35" y1="446.54" x2="298.35" y2="446.54" stroke="#a8606c" stroke-width="0.7"/>
<line x1="333.10" y1="454.81" x2="333.10" y2="465.37" stroke="#a8606c" stroke-width="0.7"/>
<line x1="331.10" y1="454.81" x2="335.10" y2="454.81" stroke="#a8606c" stroke-width="0.7"/>
<line x1="331.10" y1="465.37" x2="335.10" y2="465.37" stroke="#a8606c" stroke-width="0.7"/>
<polyline points="259.60,523.10 260.75,510.43 261.89,502.86 264.19,493.53 268.79,479.28 277.98,464.32 296.35,444.43 333.10,460.09" fill="none" stroke="#b9112f" stroke-width="1.1"/>
<circle cx="259.60" cy="523.10" r="2.1" fill="#b9112f"/>
<circle cx="260.75" cy="510.43" r="2.1" fill="#b9112f"/>
<circle cx="261.89" cy="502.86" r="2.1" fill="#b9112f"/>
<circle cx="264.19" cy="493.53" r="2.1" fill="#b9112f"/>
<circle cx="268.79" cy="479.28" r="2.1" fill="#b9112f"/>
<circle cx="277.98" cy="464.32" r="2.1" fill="#b9112f"/>
<circle cx="296.35" cy="444.43" r="2.1" fill="#b9112f"/>
<circle cx="333.10" cy="460.09" r="2.1" fill="#b9112f"/>
<line x1="264.19" y1="496.35" x2="264.19" y2="499.87" stroke="#a8606c" stroke-width="0.7"/>
<line x1="262.19" y1="496.35" x2="266.19" y2="496.35" stroke="#a8606c" stroke-width="0.7"/>
<line x1="262.19" y1="499.87" x2="266.19" y2="499.87" stroke="#a8606c" stroke-width="0.7"/>
<line x1="268.79" y1="484.38" x2="268.79" y2="491.42" stroke="#a8606c" stroke-width="0.7"/>
<line x1="266.79" y1="484.38" x2="270.79" y2="484.38" stroke="#a8606c" stroke-width="0.7"/>
<line x1="266.79" y1="491.42" x2="270.79" y2="491.42" stroke="#a8606c" stroke-width="0.7"/>
<line x1="277.98" y1="468.01" x2="277.98" y2="482.09" stroke="#a8606c" stroke-width="0.7"/>
<line x1="275.98" y1="468.01" x2="279.98" y2="468.01" stroke="#a8606c" stroke-width="0.7"/>
<line x1="275.98" y1="482.09" x2="279.98" y2="482.09" stroke="#a8606c" stroke-width="0.7"/>
<line x1="296.35" y1="469.42" x2="296.35" y2="487.72" stroke="#a8606c" stroke-width="0.7"/>
<line x1="294.35" y1="469.42" x2="298.35" y2="469.42" stroke="#a8606c" stroke-width="0.7"/>
<line x1="294.35" y1="487.72" x2="298.35" y2="487.72" stroke="#a8606c" stroke-width="0.7"/>
<line x1="333.10" y1="465.02" x2="333.10" y2="472.06" stroke="#a8606c" stroke-width="0.7"/>
<line x1="331.10" y1="465.02" x2="335.10" y2="465.02" stroke="#a8606c" stroke-width="0.7"/>
<line x1="331.10" y1="472.06" x2="335.10" y2="472.06" stroke="#a8606c" stroke-width="0.7"/>
<polyline points="259.60,523.10 260.75,510.43 261.89,502.86 264.19,498.11 268.79,487.90 277.98,475.05 296.35,478.57 333.10,468.54" fill="none" stroke="#b9112f" stroke-width="1.1"/>
<circle cx="259.60" cy="523.10" r="2.1" fill="#b9112f"/>
<circle cx="260.75" cy="510.43" r="2.1" fill="#b9112f"/>
<circle cx="261.89" cy="502.86" r="2.1" fill="#b9112f"/>
<circle cx="264.19" cy="498.11" r="2.1" fill="#b9112f"/>
<circle cx="268.79" cy="487.90" r="2.1" fill="#b9112f"/>
<circle cx="277.98" cy="475.05" r="2.1" fill="#b9112f"/>
<circle cx="296.35" cy="478.57" r="2.1" fill="#b9112f"/>
<circle cx="333.10" cy="468.54" r="2.1" fill="#b9112f"/>
<line x1="360.00" y1="432.30" x2="360.00" y2="523.80" stroke="#333" stroke-width="1.4"/>
<line x1="357.20" y1="523.20" x2="360.00" y2="523.20" stroke="#333" stroke-width="1.2"/>
<line x1="357.20" y1="505.60" x2="360.00" y2="505.60" stroke="#333" stroke-width="1.2"/>
<line x1="357.20" y1="488.00" x2="360.00" y2="488.00" stroke="#333" stroke-width="1.2"/>
<line x1="357.20" y1="470.40" x2="360.00" y2="470.40" stroke="#333" stroke-width="1.2"/>
<line x1="357.20" y1="452.80" x2="360.00" y2="452.80" stroke="#333" stroke-width="1.2"/>
<line x1="357.20" y1="435.20" x2="360.00" y2="435.20" stroke="#333" stroke-width="1.2"/>
<line x1="359.40" y1="523.20" x2="450.52" y2="523.20" stroke="#333" stroke-width="1.4"/>
<line x1="360.00" y1="523.20" x2="360.00" y2="525.60" stroke="#333" stroke-width="1.2"/>
<text x="360.00" y="534.50" font-size="6.6" text-anchor="middle">0</text>
<line x1="389.34" y1="523.20" x2="389.34" y2="525.60" stroke="#333" stroke-width="1.2"/>
<text x="389.34" y="534.50" font-size="6.6" text-anchor="middle">2</text>
<line x1="418.68" y1="523.20" x2="418.68" y2="525.60" stroke="#333" stroke-width="1.2"/>
<text x="418.68" y="534.50" font-size="6.6" text-anchor="middle">4</text>
<line x1="448.02" y1="523.20" x2="448.02" y2="525.60" stroke="#333" stroke-width="1.2"/>
<text x="448.02" y="534.50" font-size="6.6" text-anchor="middle">6</text>
<text x="405.90" y="427.60" font-size="8.2" text-anchor="middle">GM-CSF</text>
<line x1="361.14" y1="516.16" x2="361.14" y2="519.68" stroke="#e2aaa6" stroke-width="0.7"/>
<line x1="359.14" y1="516.16" x2="363.14" y2="516.16" stroke="#e2aaa6" stroke-width="0.7"/>
<line x1="359.14" y1="519.68" x2="363.14" y2="519.68" stroke="#e2aaa6" stroke-width="0.7"/>
<line x1="362.29" y1="512.64" x2="362.29" y2="517.92" stroke="#e2aaa6" stroke-width="0.7"/>
<line x1="360.29" y1="512.64" x2="364.29" y2="512.64" stroke="#e2aaa6" stroke-width="0.7"/>
<line x1="360.29" y1="517.92" x2="364.29" y2="517.92" stroke="#e2aaa6" stroke-width="0.7"/>
<line x1="364.58" y1="510.88" x2="364.58" y2="516.16" stroke="#e2aaa6" stroke-width="0.7"/>
<line x1="362.58" y1="510.88" x2="366.58" y2="510.88" stroke="#e2aaa6" stroke-width="0.7"/>
<line x1="362.58" y1="516.16" x2="366.58" y2="516.16" stroke="#e2aaa6" stroke-width="0.7"/>
<line x1="369.17" y1="510.00" x2="369.17" y2="515.28" stroke="#e2aaa6" stroke-width="0.7"/>
<line x1="367.17" y1="510.00" x2="371.17" y2="510.00" stroke="#e2aaa6" stroke-width="0.7"/>
<line x1="367.17" y1="515.28" x2="371.17" y2="515.28" stroke="#e2aaa6" stroke-width="0.7"/>
<line x1="378.34" y1="510.70" x2="378.34" y2="514.22" stroke="#e2aaa6" stroke-width="0.7"/>
<line x1="376.34" y1="510.70" x2="380.34" y2="510.70" stroke="#e2aaa6" stroke-width="0.7"/>
<line x1="376.34" y1="514.22" x2="380.34" y2="514.22" stroke="#e2aaa6" stroke-width="0.7"/>
<line x1="396.68" y1="501.73" x2="396.68" y2="505.95" stroke="#e2aaa6" stroke-width="0.7"/>
<line x1="394.68" y1="501.73" x2="398.68" y2="501.73" stroke="#e2aaa6" stroke-width="0.7"/>
<line x1="394.68" y1="505.95" x2="398.68" y2="505.95" stroke="#e2aaa6" stroke-width="0.7"/>
<line x1="433.35" y1="507.18" x2="433.35" y2="512.46" stroke="#e2aaa6" stroke-width="0.7"/>
<line x1="431.35" y1="507.18" x2="435.35" y2="507.18" stroke="#e2aaa6" stroke-width="0.7"/>
<line x1="431.35" y1="512.46" x2="435.35" y2="512.46" stroke="#e2aaa6" stroke-width="0.7"/>
<polyline points="360.00,523.20 361.14,517.92 362.29,515.28 364.58,513.52 369.17,512.64 378.34,512.46 396.68,503.84 433.35,509.82" fill="none" stroke="#da958c" stroke-width="1.1"/>
<circle cx="360.00" cy="523.20" r="1.8" fill="#da958c"/>
<circle cx="361.14" cy="517.92" r="1.8" fill="#da958c"/>
<circle cx="362.29" cy="515.28" r="1.8" fill="#da958c"/>
<circle cx="364.58" cy="513.52" r="1.8" fill="#da958c"/>
<circle cx="369.17" cy="512.64" r="1.8" fill="#da958c"/>
<circle cx="378.34" cy="512.46" r="1.8" fill="#da958c"/>
<circle cx="396.68" cy="503.84" r="1.8" fill="#da958c"/>
<circle cx="433.35" cy="509.82" r="1.8" fill="#da958c"/>
<line x1="361.14" y1="517.04" x2="361.14" y2="520.56" stroke="#e2aaa6" stroke-width="0.7"/>
<line x1="359.14" y1="517.04" x2="363.14" y2="517.04" stroke="#e2aaa6" stroke-width="0.7"/>
<line x1="359.14" y1="520.56" x2="363.14" y2="520.56" stroke="#e2aaa6" stroke-width="0.7"/>
<line x1="362.29" y1="514.40" x2="362.29" y2="517.92" stroke="#e2aaa6" stroke-width="0.7"/>
<line x1="360.29" y1="514.40" x2="364.29" y2="514.40" stroke="#e2aaa6" stroke-width="0.7"/>
<line x1="360.29" y1="517.92" x2="364.29" y2="517.92" stroke="#e2aaa6" stroke-width="0.7"/>
<line x1="364.58" y1="512.64" x2="364.58" y2="516.16" stroke="#e2aaa6" stroke-width="0.7"/>
<line x1="362.58" y1="512.64" x2="366.58" y2="512.64" stroke="#e2aaa6" stroke-width="0.7"/>
<line x1="362.58" y1="516.16" x2="366.58" y2="516.16" stroke="#e2aaa6" stroke-width="0.7"/>
<line x1="369.17" y1="511.76" x2="369.17" y2="515.28" stroke="#e2aaa6" stroke-width="0.7"/>
<line x1="367.17" y1="511.76" x2="371.17" y2="511.76" stroke="#e2aaa6" stroke-width="0.7"/>
<line x1="367.17" y1="515.28" x2="371.17" y2="515.28" stroke="#e2aaa6" stroke-width="0.7"/>
<line x1="378.34" y1="509.65" x2="378.34" y2="513.17" stroke="#e2aaa6" stroke-width="0.7"/>
<line x1="376.34" y1="509.65" x2="380.34" y2="509.65" stroke="#e2aaa6" stroke-width="0.7"/>
<line x1="376.34" y1="513.17" x2="380.34" y2="513.17" stroke="#e2aaa6" stroke-width="0.7"/>
<line x1="396.68" y1="507.01" x2="396.68" y2="510.53" stroke="#e2aaa6" stroke-width="0.7"/>
<line x1="394.68" y1="507.01" x2="398.68" y2="507.01" stroke="#e2aaa6" stroke-width="0.7"/>
<line x1="394.68" y1="510.53" x2="398.68" y2="510.53" stroke="#e2aaa6" stroke-width="0.7"/>
<line x1="433.35" y1="506.48" x2="433.35" y2="510.00" stroke="#e2aaa6" stroke-width="0.7"/>
<line x1="431.35" y1="506.48" x2="435.35" y2="506.48" stroke="#e2aaa6" stroke-width="0.7"/>
<line x1="431.35" y1="510.00" x2="435.35" y2="510.00" stroke="#e2aaa6" stroke-width="0.7"/>
<polyline points="360.00,523.20 361.14,518.80 362.29,516.16 364.58,514.40 369.17,513.52 378.34,511.41 396.68,508.77 433.35,508.24" fill="none" stroke="#da958c" stroke-width="1.1"/>
<circle cx="360.00" cy="523.20" r="1.8" fill="#da958c"/>
<circle cx="361.14" cy="518.80" r="1.8" fill="#da958c"/>
<circle cx="362.29" cy="516.16" r="1.8" fill="#da958c"/>
<circle cx="364.58" cy="514.40" r="1.8" fill="#da958c"/>
<circle cx="369.17" cy="513.52" r="1.8" fill="#da958c"/>
<circle cx="378.34" cy="511.41" r="1.8" fill="#da958c"/>
<circle cx="396.68" cy="508.77" r="1.8" fill="#da958c"/>
<circle cx="433.35" cy="508.24" r="1.8" fill="#da958c"/>
<line x1="361.14" y1="517.92" x2="361.14" y2="521.44" stroke="#a8606c" stroke-width="0.7"/>
<line x1="359.14" y1="517.92" x2="363.14" y2="517.92" stroke="#a8606c" stroke-width="0.7"/>
<line x1="359.14" y1="521.44" x2="363.14" y2="521.44" stroke="#a8606c" stroke-width="0.7"/>
<line x1="362.29" y1="515.28" x2="362.29" y2="518.80" stroke="#a8606c" stroke-width="0.7"/>
<line x1="360.29" y1="515.28" x2="364.29" y2="515.28" stroke="#a8606c" stroke-width="0.7"/>
<line x1="360.29" y1="518.80" x2="364.29" y2="518.80" stroke="#a8606c" stroke-width="0.7"/>
<line x1="364.58" y1="513.52" x2="364.58" y2="517.04" stroke="#a8606c" stroke-width="0.7"/>
<line x1="362.58" y1="513.52" x2="366.58" y2="513.52" stroke="#a8606c" stroke-width="0.7"/>
<line x1="362.58" y1="517.04" x2="366.58" y2="517.04" stroke="#a8606c" stroke-width="0.7"/>
<line x1="369.17" y1="512.64" x2="369.17" y2="516.16" stroke="#a8606c" stroke-width="0.7"/>
<line x1="367.17" y1="512.64" x2="371.17" y2="512.64" stroke="#a8606c" stroke-width="0.7"/>
<line x1="367.17" y1="516.16" x2="371.17" y2="516.16" stroke="#a8606c" stroke-width="0.7"/>
<line x1="378.34" y1="508.77" x2="378.34" y2="514.05" stroke="#a8606c" stroke-width="0.7"/>
<line x1="376.34" y1="508.77" x2="380.34" y2="508.77" stroke="#a8606c" stroke-width="0.7"/>
<line x1="376.34" y1="514.05" x2="380.34" y2="514.05" stroke="#a8606c" stroke-width="0.7"/>
<line x1="396.68" y1="512.46" x2="396.68" y2="515.98" stroke="#a8606c" stroke-width="0.7"/>
<line x1="394.68" y1="512.46" x2="398.68" y2="512.46" stroke="#a8606c" stroke-width="0.7"/>
<line x1="394.68" y1="515.98" x2="398.68" y2="515.98" stroke="#a8606c" stroke-width="0.7"/>
<line x1="433.35" y1="511.58" x2="433.35" y2="515.10" stroke="#a8606c" stroke-width="0.7"/>
<line x1="431.35" y1="511.58" x2="435.35" y2="511.58" stroke="#a8606c" stroke-width="0.7"/>
<line x1="431.35" y1="515.10" x2="435.35" y2="515.10" stroke="#a8606c" stroke-width="0.7"/>
<polyline points="360.00,523.20 361.14,519.68 362.29,517.04 364.58,515.28 369.17,514.40 378.34,511.41 396.68,514.22 433.35,513.34" fill="none" stroke="#b9112f" stroke-width="1.1"/>
<circle cx="360.00" cy="523.20" r="2.1" fill="#b9112f"/>
<circle cx="361.14" cy="519.68" r="2.1" fill="#b9112f"/>
<circle cx="362.29" cy="517.04" r="2.1" fill="#b9112f"/>
<circle cx="364.58" cy="515.28" r="2.1" fill="#b9112f"/>
<circle cx="369.17" cy="514.40" r="2.1" fill="#b9112f"/>
<circle cx="378.34" cy="511.41" r="2.1" fill="#b9112f"/>
<circle cx="396.68" cy="514.22" r="2.1" fill="#b9112f"/>
<circle cx="433.35" cy="513.34" r="2.1" fill="#b9112f"/>
<line x1="396.68" y1="513.34" x2="396.68" y2="516.86" stroke="#a8606c" stroke-width="0.7"/>
<line x1="394.68" y1="513.34" x2="398.68" y2="513.34" stroke="#a8606c" stroke-width="0.7"/>
<line x1="394.68" y1="516.86" x2="398.68" y2="516.86" stroke="#a8606c" stroke-width="0.7"/>
<line x1="433.35" y1="513.34" x2="433.35" y2="516.86" stroke="#a8606c" stroke-width="0.7"/>
<line x1="431.35" y1="513.34" x2="435.35" y2="513.34" stroke="#a8606c" stroke-width="0.7"/>
<line x1="431.35" y1="516.86" x2="435.35" y2="516.86" stroke="#a8606c" stroke-width="0.7"/>
<polyline points="360.00,523.20 361.14,522.32 362.29,521.44 364.58,520.56 369.17,519.68 378.34,518.45 396.68,515.10 433.35,515.10" fill="none" stroke="#b9112f" stroke-width="1.1"/>
<circle cx="360.00" cy="523.20" r="2.1" fill="#b9112f"/>
<circle cx="361.14" cy="522.32" r="2.1" fill="#b9112f"/>
<circle cx="362.29" cy="521.44" r="2.1" fill="#b9112f"/>
<circle cx="364.58" cy="520.56" r="2.1" fill="#b9112f"/>
<circle cx="369.17" cy="519.68" r="2.1" fill="#b9112f"/>
<circle cx="378.34" cy="518.45" r="2.1" fill="#b9112f"/>
<circle cx="396.68" cy="515.10" r="2.1" fill="#b9112f"/>
<circle cx="433.35" cy="515.10" r="2.1" fill="#b9112f"/>
<text x="21.40" y="478.00" font-size="6.6" text-anchor="middle" textLength="76.00" lengthAdjust="spacingAndGlyphs" transform="rotate(-90 21.40 478.00)">Luminescence (RLU × 10<tspan font-size="4.0" dy="-2.4">5</tspan><tspan dy="2.4">)</tspan></text>
<text x="134.70" y="549.60" font-size="6.8" text-anchor="middle" textLength="50.00" lengthAdjust="spacingAndGlyphs">Units (×10<tspan font-size="4.6" dy="-2.6">3</tspan><tspan dy="2.6">/mL)</tspan></text>
<text x="354.70" y="549.60" font-size="6.8" text-anchor="middle" textLength="50.00" lengthAdjust="spacingAndGlyphs">Units (×10<tspan font-size="4.6" dy="-2.6">3</tspan><tspan dy="2.6">/mL)</tspan></text>
<line x1="40.15" y1="580.10" x2="40.15" y2="668.20" stroke="#333" stroke-width="1.4"/>
<line x1="37.15" y1="667.60" x2="40.15" y2="667.60" stroke="#333" stroke-width="1.2"/>
<text x="34.20" y="669.61" font-size="7.0" text-anchor="end" textLength="3.89" lengthAdjust="spacingAndGlyphs">0</text>
<line x1="37.15" y1="647.60" x2="40.15" y2="647.60" stroke="#333" stroke-width="1.2"/>
<text x="34.20" y="649.61" font-size="7.0" text-anchor="end" textLength="7.40" lengthAdjust="spacingAndGlyphs">25</text>
<line x1="37.15" y1="627.60" x2="40.15" y2="627.60" stroke="#333" stroke-width="1.2"/>
<text x="34.20" y="629.61" font-size="7.0" text-anchor="end" textLength="7.40" lengthAdjust="spacingAndGlyphs">50</text>
<line x1="37.15" y1="607.60" x2="40.15" y2="607.60" stroke="#333" stroke-width="1.2"/>
<text x="34.20" y="609.61" font-size="7.0" text-anchor="end" textLength="7.40" lengthAdjust="spacingAndGlyphs">75</text>
<line x1="37.15" y1="587.60" x2="40.15" y2="587.60" stroke="#333" stroke-width="1.2"/>
<text x="34.20" y="589.61" font-size="7.0" text-anchor="end" textLength="10.51" lengthAdjust="spacingAndGlyphs">100</text>
<line x1="39.55" y1="667.60" x2="127.55" y2="667.60" stroke="#333" stroke-width="1.4"/>
<line x1="40.15" y1="667.60" x2="40.15" y2="670.00" stroke="#333" stroke-width="1.2"/>
<text x="40.15" y="679.10" font-size="6.6" text-anchor="middle">0</text>
<line x1="61.25" y1="667.60" x2="61.25" y2="670.00" stroke="#333" stroke-width="1.2"/>
<text x="61.25" y="679.10" font-size="6.6" text-anchor="middle">60</text>
<line x1="82.35" y1="667.60" x2="82.35" y2="670.00" stroke="#333" stroke-width="1.2"/>
<text x="82.35" y="679.10" font-size="6.6" text-anchor="middle">120</text>
<line x1="103.45" y1="667.60" x2="103.45" y2="670.00" stroke="#333" stroke-width="1.2"/>
<text x="103.45" y="679.10" font-size="6.6" text-anchor="middle">180</text>
<line x1="124.55" y1="667.60" x2="124.55" y2="670.00" stroke="#333" stroke-width="1.2"/>
<text x="124.55" y="679.10" font-size="6.6" text-anchor="middle">240</text>
<text x="85.50" y="575.10" font-size="8.2" text-anchor="middle">IL-3</text>
<circle cx="82.10" cy="593.40" r="1.25" fill="#2a2a2a"/>
<line x1="40.15" y1="663.60" x2="40.15" y2="665.20" stroke="#e2b0ac" stroke-width="0.7"/>
<line x1="37.95" y1="663.60" x2="42.35" y2="663.60" stroke="#e2b0ac" stroke-width="0.7"/>
<line x1="37.95" y1="665.20" x2="42.35" y2="665.20" stroke="#e2b0ac" stroke-width="0.7"/>
<line x1="61.25" y1="617.76" x2="61.25" y2="652.96" stroke="#e2b0ac" stroke-width="0.7"/>
<line x1="59.05" y1="617.76" x2="63.45" y2="617.76" stroke="#e2b0ac" stroke-width="0.7"/>
<line x1="59.05" y1="652.96" x2="63.45" y2="652.96" stroke="#e2b0ac" stroke-width="0.7"/>
<line x1="82.35" y1="657.68" x2="82.35" y2="662.48" stroke="#e2b0ac" stroke-width="0.7"/>
<line x1="80.15" y1="657.68" x2="84.55" y2="657.68" stroke="#e2b0ac" stroke-width="0.7"/>
<line x1="80.15" y1="662.48" x2="84.55" y2="662.48" stroke="#e2b0ac" stroke-width="0.7"/>
<line x1="124.55" y1="642.64" x2="124.55" y2="652.24" stroke="#e2b0ac" stroke-width="0.7"/>
<line x1="122.35" y1="642.64" x2="126.75" y2="642.64" stroke="#e2b0ac" stroke-width="0.7"/>
<line x1="122.35" y1="652.24" x2="126.75" y2="652.24" stroke="#e2b0ac" stroke-width="0.7"/>
<polyline points="40.15,663.60 61.25,635.36 82.35,660.08 124.55,646.64" fill="none" stroke="#da958c" stroke-width="1.1"/>
<circle cx="40.15" cy="663.60" r="2.0" fill="#da958c"/>
<circle cx="61.25" cy="635.36" r="2.0" fill="#da958c"/>
<circle cx="82.35" cy="660.08" r="2.0" fill="#da958c"/>
<circle cx="124.55" cy="646.64" r="2.0" fill="#da958c"/>
<line x1="40.15" y1="660.16" x2="40.15" y2="663.36" stroke="#a8606c" stroke-width="0.7"/>
<line x1="37.95" y1="660.16" x2="42.35" y2="660.16" stroke="#a8606c" stroke-width="0.7"/>
<line x1="37.95" y1="663.36" x2="42.35" y2="663.36" stroke="#a8606c" stroke-width="0.7"/>
<line x1="61.25" y1="584.40" x2="61.25" y2="622.80" stroke="#a8606c" stroke-width="0.7"/>
<line x1="59.05" y1="584.40" x2="63.45" y2="584.40" stroke="#a8606c" stroke-width="0.7"/>
<line x1="59.05" y1="622.80" x2="63.45" y2="622.80" stroke="#a8606c" stroke-width="0.7"/>
<line x1="82.35" y1="597.60" x2="82.35" y2="625.20" stroke="#a8606c" stroke-width="0.7"/>
<line x1="80.15" y1="597.60" x2="84.55" y2="597.60" stroke="#a8606c" stroke-width="0.7"/>
<line x1="80.15" y1="625.20" x2="84.55" y2="625.20" stroke="#a8606c" stroke-width="0.7"/>
<line x1="124.55" y1="599.84" x2="124.55" y2="639.84" stroke="#a8606c" stroke-width="0.7"/>
<line x1="122.35" y1="599.84" x2="126.75" y2="599.84" stroke="#a8606c" stroke-width="0.7"/>
<line x1="122.35" y1="639.84" x2="126.75" y2="639.84" stroke="#a8606c" stroke-width="0.7"/>
<polyline points="40.15,660.16 61.25,603.60 82.35,611.20 124.55,619.84" fill="none" stroke="#b9112f" stroke-width="1.1"/>
<circle cx="40.15" cy="660.16" r="2.2" fill="#b9112f"/>
<circle cx="61.25" cy="603.60" r="2.2" fill="#b9112f"/>
<circle cx="82.35" cy="611.20" r="2.2" fill="#b9112f"/>
<circle cx="124.55" cy="619.84" r="2.2" fill="#b9112f"/>
<line x1="143.10" y1="580.10" x2="143.10" y2="668.00" stroke="#333" stroke-width="1.4"/>
<line x1="140.10" y1="667.40" x2="143.10" y2="667.40" stroke="#333" stroke-width="1.2"/>
<line x1="140.10" y1="647.40" x2="143.10" y2="647.40" stroke="#333" stroke-width="1.2"/>
<line x1="140.10" y1="627.40" x2="143.10" y2="627.40" stroke="#333" stroke-width="1.2"/>
<line x1="140.10" y1="607.40" x2="143.10" y2="607.40" stroke="#333" stroke-width="1.2"/>
<line x1="140.10" y1="587.40" x2="143.10" y2="587.40" stroke="#333" stroke-width="1.2"/>
<line x1="142.50" y1="667.40" x2="230.50" y2="667.40" stroke="#333" stroke-width="1.4"/>
<line x1="143.10" y1="667.40" x2="143.10" y2="669.80" stroke="#333" stroke-width="1.2"/>
<text x="143.10" y="678.90" font-size="6.6" text-anchor="middle">0</text>
<line x1="164.20" y1="667.40" x2="164.20" y2="669.80" stroke="#333" stroke-width="1.2"/>
<text x="164.20" y="678.90" font-size="6.6" text-anchor="middle">60</text>
<line x1="185.30" y1="667.40" x2="185.30" y2="669.80" stroke="#333" stroke-width="1.2"/>
<text x="185.30" y="678.90" font-size="6.6" text-anchor="middle">120</text>
<line x1="206.40" y1="667.40" x2="206.40" y2="669.80" stroke="#333" stroke-width="1.2"/>
<text x="206.40" y="678.90" font-size="6.6" text-anchor="middle">180</text>
<line x1="227.50" y1="667.40" x2="227.50" y2="669.80" stroke="#333" stroke-width="1.2"/>
<text x="227.50" y="678.90" font-size="6.6" text-anchor="middle">240</text>
<text x="188.40" y="575.10" font-size="8.2" text-anchor="middle">GM-CSF</text>
<circle cx="185.50" cy="593.40" r="1.25" fill="#2a2a2a"/>
<circle cx="227.50" cy="593.40" r="1.25" fill="#2a2a2a"/>
<line x1="143.10" y1="663.72" x2="143.10" y2="665.32" stroke="#e2b0ac" stroke-width="0.7"/>
<line x1="140.90" y1="663.72" x2="145.30" y2="663.72" stroke="#e2b0ac" stroke-width="0.7"/>
<line x1="140.90" y1="665.32" x2="145.30" y2="665.32" stroke="#e2b0ac" stroke-width="0.7"/>
<line x1="164.20" y1="659.56" x2="164.20" y2="662.76" stroke="#e2b0ac" stroke-width="0.7"/>
<line x1="162.00" y1="659.56" x2="166.40" y2="659.56" stroke="#e2b0ac" stroke-width="0.7"/>
<line x1="162.00" y1="662.76" x2="166.40" y2="662.76" stroke="#e2b0ac" stroke-width="0.7"/>
<line x1="185.30" y1="661.96" x2="185.30" y2="663.56" stroke="#e2b0ac" stroke-width="0.7"/>
<line x1="183.10" y1="661.96" x2="187.50" y2="661.96" stroke="#e2b0ac" stroke-width="0.7"/>
<line x1="183.10" y1="663.56" x2="187.50" y2="663.56" stroke="#e2b0ac" stroke-width="0.7"/>
<line x1="227.50" y1="662.92" x2="227.50" y2="664.52" stroke="#e2b0ac" stroke-width="0.7"/>
<line x1="225.30" y1="662.92" x2="229.70" y2="662.92" stroke="#e2b0ac" stroke-width="0.7"/>
<line x1="225.30" y1="664.52" x2="229.70" y2="664.52" stroke="#e2b0ac" stroke-width="0.7"/>
<polyline points="143.10,664.52 164.20,661.16 185.30,662.76 227.50,663.72" fill="none" stroke="#da958c" stroke-width="1.1"/>
<circle cx="143.10" cy="664.52" r="2.0" fill="#da958c"/>
<circle cx="164.20" cy="661.16" r="2.0" fill="#da958c"/>
<circle cx="185.30" cy="662.76" r="2.0" fill="#da958c"/>
<circle cx="227.50" cy="663.72" r="2.0" fill="#da958c"/>
<line x1="143.10" y1="656.28" x2="143.10" y2="664.28" stroke="#a8606c" stroke-width="0.7"/>
<line x1="140.90" y1="656.28" x2="145.30" y2="656.28" stroke="#a8606c" stroke-width="0.7"/>
<line x1="140.90" y1="664.28" x2="145.30" y2="664.28" stroke="#a8606c" stroke-width="0.7"/>
<line x1="164.20" y1="645.24" x2="164.20" y2="662.84" stroke="#a8606c" stroke-width="0.7"/>
<line x1="162.00" y1="645.24" x2="166.40" y2="645.24" stroke="#a8606c" stroke-width="0.7"/>
<line x1="162.00" y1="662.84" x2="166.40" y2="662.84" stroke="#a8606c" stroke-width="0.7"/>
<line x1="185.30" y1="643.16" x2="185.30" y2="651.16" stroke="#a8606c" stroke-width="0.7"/>
<line x1="183.10" y1="643.16" x2="187.50" y2="643.16" stroke="#a8606c" stroke-width="0.7"/>
<line x1="183.10" y1="651.16" x2="187.50" y2="651.16" stroke="#a8606c" stroke-width="0.7"/>
<line x1="227.50" y1="642.76" x2="227.50" y2="644.36" stroke="#a8606c" stroke-width="0.7"/>
<line x1="225.30" y1="642.76" x2="229.70" y2="642.76" stroke="#a8606c" stroke-width="0.7"/>
<line x1="225.30" y1="644.36" x2="229.70" y2="644.36" stroke="#a8606c" stroke-width="0.7"/>
<polyline points="143.10,660.28 164.20,654.04 185.30,647.16 227.50,643.56" fill="none" stroke="#b9112f" stroke-width="1.1"/>
<circle cx="143.10" cy="660.28" r="2.2" fill="#b9112f"/>
<circle cx="164.20" cy="654.04" r="2.2" fill="#b9112f"/>
<circle cx="185.30" cy="647.16" r="2.2" fill="#b9112f"/>
<circle cx="227.50" cy="643.56" r="2.2" fill="#b9112f"/>
<text x="17.60" y="623.30" font-size="6.8" text-anchor="middle" textLength="64.70" lengthAdjust="spacingAndGlyphs" transform="rotate(-90 17.60 623.30)">Phospho-STAT5-<tspan font-size="4.0" dy="-2.4">147</tspan><tspan dy="2.4">Sm</tspan></text>
<text x="134.60" y="693.00" font-size="6.6" text-anchor="middle" textLength="33.20" lengthAdjust="spacingAndGlyphs">Time (min)</text>
<circle cx="256.10" cy="616.80" r="2.4" fill="#d9a09c" stroke="#c98a86" stroke-width="0.5"/>
<circle cx="256.10" cy="626.80" r="2.4" fill="#a80c2c" stroke="#900a26" stroke-width="0.5"/>
<text x="262.10" y="618.90" font-size="6.8" font-style="italic" style="fill:#2e3a40" textLength="20.30" lengthAdjust="spacingAndGlyphs">Cul5<tspan font-size="4.2" dy="-2.6">fl/fl</tspan><tspan dy="2.6"></tspan></text>
<text x="262.10" y="628.90" font-size="6.8" font-style="italic" style="fill:#2e3a40" textLength="43.00" lengthAdjust="spacingAndGlyphs">Cul5<tspan font-size="4.2" dy="-2.6">fl/fl</tspan><tspan dy="2.6"> VavCre</tspan></text>
<line x1="40.00" y1="48.00" x2="40.00" y2="136.40" stroke="#333" stroke-width="1.4"/>
<line x1="37.40" y1="55.80" x2="40.00" y2="55.80" stroke="#333" stroke-width="1.4"/>
<line x1="37.40" y1="95.80" x2="40.00" y2="95.80" stroke="#333" stroke-width="1.4"/>
<line x1="37.40" y1="135.80" x2="40.00" y2="135.80" stroke="#333" stroke-width="1.4"/>
<line x1="39.40" y1="135.80" x2="105.60" y2="135.80" stroke="#333" stroke-width="1.4"/>
<line x1="144.40" y1="48.00" x2="144.40" y2="136.20" stroke="#333" stroke-width="1.4"/>
<line x1="141.80" y1="65.40" x2="144.40" y2="65.40" stroke="#333" stroke-width="1.4"/>
<line x1="141.80" y1="100.50" x2="144.40" y2="100.50" stroke="#333" stroke-width="1.4"/>
<line x1="141.80" y1="135.60" x2="144.40" y2="135.60" stroke="#333" stroke-width="1.4"/>
<line x1="143.80" y1="135.60" x2="214.30" y2="135.60" stroke="#333" stroke-width="1.4"/>
<line x1="251.80" y1="48.40" x2="251.80" y2="136.20" stroke="#333" stroke-width="1.4"/>
<line x1="249.20" y1="135.60" x2="251.80" y2="135.60" stroke="#333" stroke-width="1.4"/>
<line x1="249.20" y1="115.05" x2="251.80" y2="115.05" stroke="#333" stroke-width="1.4"/>
<line x1="249.20" y1="94.50" x2="251.80" y2="94.50" stroke="#333" stroke-width="1.4"/>
<line x1="249.20" y1="73.95" x2="251.80" y2="73.95" stroke="#333" stroke-width="1.4"/>
<line x1="249.20" y1="53.40" x2="251.80" y2="53.40" stroke="#333" stroke-width="1.4"/>
<line x1="251.20" y1="135.60" x2="317.30" y2="135.60" stroke="#333" stroke-width="1.4"/>
<line x1="341.20" y1="48.30" x2="341.20" y2="136.40" stroke="#333" stroke-width="1.4"/>
<line x1="338.60" y1="135.80" x2="341.20" y2="135.80" stroke="#333" stroke-width="1.4"/>
<line x1="338.60" y1="114.90" x2="341.20" y2="114.90" stroke="#333" stroke-width="1.4"/>
<line x1="338.60" y1="94.00" x2="341.20" y2="94.00" stroke="#333" stroke-width="1.4"/>
<line x1="338.60" y1="73.10" x2="341.20" y2="73.10" stroke="#333" stroke-width="1.4"/>
<line x1="338.60" y1="52.20" x2="341.20" y2="52.20" stroke="#333" stroke-width="1.4"/>
<line x1="340.60" y1="135.80" x2="407.50" y2="135.80" stroke="#333" stroke-width="1.4"/>
<line x1="443.30" y1="44.50" x2="443.30" y2="136.20" stroke="#333" stroke-width="1.4"/>
<line x1="440.70" y1="135.60" x2="443.30" y2="135.60" stroke="#333" stroke-width="1.4"/>
<line x1="440.70" y1="106.26" x2="443.30" y2="106.26" stroke="#333" stroke-width="1.4"/>
<line x1="440.70" y1="76.92" x2="443.30" y2="76.92" stroke="#333" stroke-width="1.4"/>
<line x1="440.70" y1="47.58" x2="443.30" y2="47.58" stroke="#333" stroke-width="1.4"/>
<line x1="442.70" y1="135.60" x2="514.00" y2="135.60" stroke="#333" stroke-width="1.4"/>
<line x1="40.30" y1="178.80" x2="40.30" y2="266.90" stroke="#333" stroke-width="1.35"/>
<line x1="37.70" y1="266.30" x2="40.30" y2="266.30" stroke="#333" stroke-width="1.35"/>
<line x1="37.70" y1="238.90" x2="40.30" y2="238.90" stroke="#333" stroke-width="1.35"/>
<line x1="37.70" y1="211.50" x2="40.30" y2="211.50" stroke="#333" stroke-width="1.35"/>
<line x1="37.70" y1="184.10" x2="40.30" y2="184.10" stroke="#333" stroke-width="1.35"/>
<line x1="39.70" y1="266.30" x2="390.80" y2="266.30" stroke="#333" stroke-width="1.35"/>
<line x1="40.30" y1="298.20" x2="40.30" y2="377.60" stroke="#333" stroke-width="1.35"/>
<line x1="37.70" y1="377.00" x2="40.30" y2="377.00" stroke="#333" stroke-width="1.35"/>
<line x1="37.70" y1="355.47" x2="40.30" y2="355.47" stroke="#333" stroke-width="1.35"/>
<line x1="37.70" y1="333.94" x2="40.30" y2="333.94" stroke="#333" stroke-width="1.35"/>
<line x1="37.70" y1="312.41" x2="40.30" y2="312.41" stroke="#333" stroke-width="1.35"/>
<line x1="39.70" y1="377.00" x2="318.50" y2="377.00" stroke="#333" stroke-width="1.35"/>
<rect x="0.5" y="0.5" width="519" height="701" fill="none" stroke="#4a4a4a" stroke-width="1"/>
</svg>
</body></html>
